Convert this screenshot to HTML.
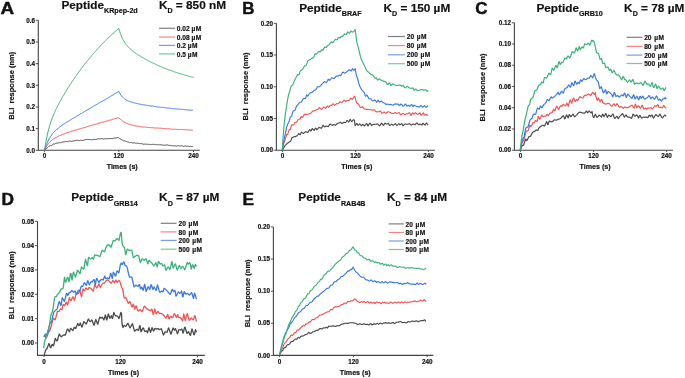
<!DOCTYPE html>
<html><head><meta charset="utf-8"><style>
html,body{margin:0;padding:0;background:#fff;}
body{width:685px;height:378px;overflow:hidden;}
svg{display:block;font-family:"Liberation Sans", sans-serif;fill:#111;}
svg{will-change:transform}
text{stroke:#111;stroke-width:0.18px;paint-order:stroke;}
.big{stroke-width:0.45px}
</style></head><body>
<svg width="685" height="378" viewBox="0 0 685 378">
<rect width="685" height="378" fill="#fff"/>
<g id="pA"><text class="big" transform="translate(0.50 14.30) scale(1.180 1)" font-size="16.00" font-weight="bold">A</text>
<text x="61.40" y="9.20" font-size="11.80" font-weight="bold">Peptide<tspan font-size="7.15" dy="4.10">KRpep-2d</tspan></text>
<text x="158.90" y="9.20" font-size="11.80" font-weight="bold">K<tspan font-size="7.15" dy="4.20">D</tspan><tspan dy="-4.20" font-size="11.80"> = 850 nM</tspan></text>
<path d="M38.30 20.30 V150.30 H199.80" fill="none" stroke="#444444" stroke-width="1.1"/>
<path d="M35.70 150.30 H38.30" stroke="#444444" stroke-width="0.9"/>
<text x="34.90" y="152.50" font-size="6.30" font-weight="bold" text-anchor="end" >0.0</text>
<path d="M35.70 128.63 H38.30" stroke="#444444" stroke-width="0.9"/>
<text x="34.90" y="130.83" font-size="6.30" font-weight="bold" text-anchor="end" >0.1</text>
<path d="M35.70 106.97 H38.30" stroke="#444444" stroke-width="0.9"/>
<text x="34.90" y="109.17" font-size="6.30" font-weight="bold" text-anchor="end" >0.2</text>
<path d="M35.70 85.30 H38.30" stroke="#444444" stroke-width="0.9"/>
<text x="34.90" y="87.50" font-size="6.30" font-weight="bold" text-anchor="end" >0.3</text>
<path d="M35.70 63.63 H38.30" stroke="#444444" stroke-width="0.9"/>
<text x="34.90" y="65.83" font-size="6.30" font-weight="bold" text-anchor="end" >0.4</text>
<path d="M35.70 41.97 H38.30" stroke="#444444" stroke-width="0.9"/>
<text x="34.90" y="44.17" font-size="6.30" font-weight="bold" text-anchor="end" >0.5</text>
<path d="M35.70 20.30 H38.30" stroke="#444444" stroke-width="0.9"/>
<text x="34.90" y="22.50" font-size="6.30" font-weight="bold" text-anchor="end" >0.6</text>
<path d="M44.40 150.30 V152.10" stroke="#444444" stroke-width="0.9"/>
<text x="44.40" y="158.40" font-size="6.30" font-weight="bold" text-anchor="middle" >0</text>
<path d="M118.80 150.30 V152.10" stroke="#444444" stroke-width="0.9"/>
<text x="118.80" y="158.40" font-size="6.30" font-weight="bold" text-anchor="middle" >120</text>
<path d="M193.50 150.30 V152.10" stroke="#444444" stroke-width="0.9"/>
<text x="193.50" y="158.40" font-size="6.30" font-weight="bold" text-anchor="middle" >240</text>
<text x="122.20" y="169.30" font-size="7.10" font-weight="bold" text-anchor="middle" >Times (s)</text>
<text transform="translate(14.30 85.80) rotate(-90)" font-size="7.50" font-weight="bold" text-anchor="middle">BLI&#160;&#160;response (nm)</text>
<path d="M159.00 28.30 H175.00" stroke="#4a4a4a" stroke-width="1.2" stroke-opacity="0.7"/>
<text x="176.80" y="30.90" font-size="6.60" font-weight="bold" text-anchor="start" word-spacing="0.00">0.02 <tspan letter-spacing="0.45">µM</tspan></text>
<path d="M159.00 37.10 H175.00" stroke="#ef5353" stroke-width="1.2" stroke-opacity="0.7"/>
<text x="176.80" y="39.70" font-size="6.60" font-weight="bold" text-anchor="start" word-spacing="0.00">0.08 <tspan letter-spacing="0.45">µM</tspan></text>
<path d="M159.00 45.40 H175.00" stroke="#3a78e0" stroke-width="1.2" stroke-opacity="0.7"/>
<text x="176.80" y="48.00" font-size="6.60" font-weight="bold" text-anchor="start" word-spacing="0.00">0.2 <tspan letter-spacing="0.45">µM</tspan></text>
<path d="M159.00 53.90 H175.00" stroke="#3cb078" stroke-width="1.2" stroke-opacity="0.7"/>
<text x="176.80" y="56.50" font-size="6.60" font-weight="bold" text-anchor="start" word-spacing="0.00">0.5 <tspan letter-spacing="0.45">µM</tspan></text>
<polyline points="44.5,150.4 45.0,149.9 45.5,149.4 46.0,148.9 46.5,148.4 47.0,148.0 47.5,147.6 48.0,147.2 48.5,146.7 49.0,146.3 49.5,145.9 50.0,145.7 50.5,145.6 51.0,145.5 51.5,145.4 52.0,145.0 52.5,144.7 53.0,144.3 53.5,144.1 54.0,144.1 54.5,144.1 55.0,143.8 55.5,143.5 56.0,143.3 56.5,143.2 57.0,143.2 57.5,143.1 58.0,143.1 58.5,142.8 59.0,142.6 59.5,142.6 60.0,142.7 60.5,142.7 61.0,142.5 61.5,142.3 62.0,142.1 62.5,142.0 63.0,141.9 63.5,141.9 64.0,141.8 64.5,141.8 65.0,141.6 65.5,141.4 66.0,141.5 66.5,141.5 67.0,141.6 67.5,141.6 68.0,141.5 68.5,141.3 69.0,141.1 69.5,141.0 70.0,141.1 70.5,141.2 71.0,141.3 71.5,141.3 72.0,141.2 72.5,141.1 73.0,141.0 73.5,140.9 74.0,140.8 74.5,140.8 75.0,140.7 75.5,140.6 76.0,140.5 76.5,140.3 77.0,140.2 77.5,140.3 78.0,140.5 78.5,140.6 79.0,140.7 79.5,140.6 80.0,140.4 80.5,140.2 81.0,140.2 81.5,140.4 82.0,140.5 82.5,140.4 83.0,140.2 83.5,140.1 84.0,140.0 84.5,139.9 85.0,139.9 85.5,139.8 86.0,139.6 86.5,139.5 87.0,139.4 87.5,139.4 88.0,139.5 88.5,139.5 89.0,139.6 89.5,139.6 90.0,139.6 90.5,139.6 91.0,139.7 91.5,139.7 92.0,139.8 92.5,139.7 93.0,139.6 93.5,139.4 94.0,139.3 94.5,139.3 95.0,139.4 95.5,139.5 96.0,139.6 96.5,139.4 97.0,139.2 97.5,138.9 98.0,138.7 98.5,138.8 99.0,138.8 99.5,138.9 100.0,138.9 100.5,138.8 101.0,138.7 101.5,138.7 102.0,138.6 102.5,138.7 103.0,138.9 103.5,139.1 104.0,138.9 104.5,138.8 105.0,138.7 105.5,138.7 106.0,138.7 106.5,138.7 107.0,138.7 107.5,138.7 108.0,138.7 108.5,138.7 109.0,138.7 109.5,138.6 110.0,138.6 110.5,138.5 111.0,138.6 111.5,138.6 112.0,138.7 112.5,138.6 113.0,138.4 113.5,138.2 114.0,138.0 114.5,138.0 115.0,138.0 115.5,138.0 116.0,138.1 116.5,138.0 117.0,137.8 117.5,137.6 118.0,137.6 118.5,137.7 118.8,137.8 119.3,138.3 119.8,138.7 120.3,138.9 120.8,139.2 121.3,139.4 121.8,139.8 122.3,140.1 122.8,140.5 123.3,140.8 123.8,140.8 124.3,140.8 124.8,140.9 125.3,141.1 125.8,141.3 126.3,141.5 126.8,141.6 127.3,141.8 127.8,141.9 128.3,142.0 128.8,142.3 129.3,142.6 129.8,142.7 130.3,142.6 130.8,142.4 131.3,142.4 131.8,142.7 132.3,143.0 132.8,143.0 133.3,142.9 133.8,142.8 134.3,142.8 134.8,142.9 135.3,143.1 135.8,143.3 136.3,143.2 136.8,143.2 137.3,143.2 137.8,143.3 138.3,143.4 138.8,143.4 139.3,143.5 139.8,143.6 140.3,143.6 140.8,143.6 141.3,143.6 141.8,143.6 142.3,143.8 142.8,144.0 143.3,144.2 143.8,144.3 144.3,144.2 144.8,144.2 145.3,144.1 145.8,144.1 146.3,144.2 146.8,144.3 147.3,144.3 147.8,144.3 148.3,144.3 148.8,144.3 149.3,144.4 149.8,144.4 150.3,144.5 150.8,144.5 151.3,144.5 151.8,144.5 152.3,144.4 152.8,144.3 153.3,144.4 153.8,144.4 154.3,144.5 154.8,144.5 155.3,144.5 155.8,144.4 156.3,144.6 156.8,144.8 157.3,144.9 157.8,144.7 158.3,144.6 158.8,144.6 159.3,144.8 159.8,144.9 160.3,144.9 160.8,144.8 161.3,144.7 161.8,144.8 162.3,145.0 162.8,145.1 163.3,145.2 163.8,145.2 164.3,145.2 164.8,145.2 165.3,145.1 165.8,145.1 166.3,145.1 166.8,145.0 167.3,144.9 167.8,145.0 168.3,145.2 168.8,145.3 169.3,145.5 169.8,145.5 170.3,145.4 170.8,145.3 171.3,145.5 171.8,145.7 172.3,145.8 172.8,145.8 173.3,145.8 173.8,145.8 174.3,145.8 174.8,145.8 175.3,145.9 175.8,146.0 176.3,146.0 176.8,146.0 177.3,145.9 177.8,145.8 178.3,145.7 178.8,145.8 179.3,145.9 179.8,146.0 180.3,146.0 180.8,145.9 181.3,145.8 181.8,145.8 182.3,145.9 182.8,146.1 183.3,146.3 183.8,146.4 184.3,146.2 184.8,146.0 185.3,145.8 185.8,145.9 186.3,146.1 186.8,146.3 187.3,146.2 187.8,146.2 188.3,146.2 188.8,146.4 189.3,146.6 189.8,146.5 190.3,146.4 190.8,146.4 191.3,146.5 191.8,146.6 192.3,146.6 192.8,146.4 192.9,146.3" fill="none" stroke="#4a4a4a" stroke-width="1.00" stroke-linejoin="round"/>
<polyline points="44.5,150.4 45.0,149.3 45.5,148.2 46.0,147.3 46.5,146.5 47.0,145.7 47.5,145.0 48.0,144.2 48.5,143.5 49.0,143.0 49.5,142.5 50.0,142.0 50.5,141.5 51.0,140.9 51.5,140.4 52.0,139.8 52.5,139.5 53.0,139.2 53.5,138.9 54.0,138.6 54.5,138.2 55.0,137.9 55.5,137.7 56.0,137.5 56.5,137.3 57.0,136.9 57.5,136.6 58.0,136.3 58.5,136.0 59.0,135.8 59.5,135.7 60.0,135.5 60.5,135.4 61.0,135.2 61.5,134.9 62.0,134.7 62.5,134.4 63.0,134.2 63.5,134.1 64.0,134.0 64.5,133.8 65.0,133.5 65.5,133.3 66.0,133.1 66.5,132.9 67.0,132.8 67.5,132.6 68.0,132.5 68.5,132.4 69.0,132.2 69.5,131.9 70.0,131.7 70.5,131.6 71.0,131.4 71.5,131.3 72.0,131.1 72.5,131.0 73.0,130.8 73.5,130.7 74.0,130.6 74.5,130.4 75.0,130.2 75.5,130.1 76.0,130.0 76.5,129.9 77.0,129.8 77.5,129.6 78.0,129.4 78.5,129.2 79.0,129.1 79.5,129.0 80.0,128.9 80.5,128.8 81.0,128.6 81.5,128.4 82.0,128.1 82.5,128.0 83.0,127.9 83.5,127.9 84.0,127.7 84.5,127.5 85.0,127.2 85.5,127.2 86.0,127.2 86.5,127.0 87.0,126.7 87.5,126.5 88.0,126.3 88.5,126.2 89.0,126.1 89.5,126.0 90.0,125.9 90.5,125.6 91.0,125.3 91.5,125.3 92.0,125.2 92.5,125.1 93.0,125.0 93.5,124.8 94.0,124.6 94.5,124.4 95.0,124.3 95.5,124.2 96.0,124.1 96.5,124.0 97.0,123.7 97.5,123.5 98.0,123.3 98.5,123.2 99.0,123.1 99.5,123.0 100.0,123.0 100.5,122.8 101.0,122.6 101.5,122.4 102.0,122.2 102.5,122.1 103.0,122.1 103.5,122.0 104.0,122.0 104.5,121.8 105.0,121.6 105.5,121.4 106.0,121.2 106.5,121.0 107.0,120.9 107.5,120.8 108.0,120.8 108.5,120.6 109.0,120.4 109.5,120.2 110.0,120.1 110.5,120.0 111.0,119.9 111.5,119.8 112.0,119.6 112.5,119.3 113.0,119.2 113.5,119.1 114.0,119.0 114.5,118.9 115.0,118.7 115.5,118.6 116.0,118.5 116.5,118.4 117.0,118.3 117.5,118.0 118.0,117.8 118.5,117.8 118.8,117.7 119.3,118.3 119.8,118.8 120.3,119.2 120.8,119.6 121.3,120.0 121.8,120.4 122.3,120.8 122.8,121.2 123.3,121.6 123.8,121.9 124.3,122.2 124.8,122.4 125.3,122.6 125.8,122.8 126.3,123.1 126.8,123.3 127.3,123.6 127.8,123.8 128.3,123.9 128.8,124.1 129.3,124.2 129.8,124.4 130.3,124.6 130.8,124.9 131.3,124.9 131.8,125.0 132.3,125.1 132.8,125.2 133.3,125.4 133.8,125.5 134.3,125.6 134.8,125.7 135.3,125.7 135.8,125.8 136.3,126.0 136.8,126.2 137.3,126.2 137.8,126.1 138.3,126.2 138.8,126.3 139.3,126.4 139.8,126.5 140.3,126.6 140.8,126.7 141.3,126.8 141.8,126.8 142.3,126.9 142.8,127.0 143.3,127.1 143.8,127.1 144.3,127.0 144.8,127.0 145.3,127.0 145.8,127.1 146.3,127.2 146.8,127.3 147.3,127.4 147.8,127.5 148.3,127.5 148.8,127.4 149.3,127.4 149.8,127.5 150.3,127.6 150.8,127.6 151.3,127.7 151.8,127.7 152.3,127.7 152.8,127.7 153.3,127.8 153.8,127.9 154.3,127.9 154.8,128.0 155.3,128.0 155.8,128.0 156.3,128.0 156.8,128.0 157.3,128.0 157.8,128.0 158.3,128.1 158.8,128.1 159.3,128.1 159.8,128.2 160.3,128.2 160.8,128.2 161.3,128.3 161.8,128.3 162.3,128.4 162.8,128.5 163.3,128.5 163.8,128.6 164.3,128.6 164.8,128.6 165.3,128.6 165.8,128.7 166.3,128.7 166.8,128.8 167.3,128.8 167.8,128.7 168.3,128.7 168.8,128.7 169.3,128.8 169.8,128.9 170.3,129.1 170.8,129.1 171.3,129.1 171.8,129.1 172.3,129.1 172.8,129.2 173.3,129.3 173.8,129.4 174.3,129.3 174.8,129.3 175.3,129.2 175.8,129.3 176.3,129.4 176.8,129.5 177.3,129.4 177.8,129.3 178.3,129.4 178.8,129.5 179.3,129.6 179.8,129.6 180.3,129.5 180.8,129.5 181.3,129.4 181.8,129.5 182.3,129.6 182.8,129.6 183.3,129.7 183.8,129.7 184.3,129.7 184.8,129.7 185.3,129.8 185.8,129.9 186.3,129.9 186.8,130.0 187.3,130.0 187.8,129.9 188.3,129.8 188.8,130.0 189.3,130.1 189.8,130.2 190.3,130.1 190.8,130.1 191.3,130.1 191.8,130.1 192.3,130.2 192.8,130.3 192.9,130.3" fill="none" stroke="#ef5353" stroke-width="1.00" stroke-linejoin="round"/>
<polyline points="44.5,150.4 45.0,148.8 45.5,147.2 46.0,145.7 46.5,144.4 47.0,143.3 47.5,142.2 48.0,141.1 48.5,140.0 49.0,139.0 49.5,138.1 50.0,137.3 50.5,136.6 51.0,135.9 51.5,135.1 52.0,134.4 52.5,133.7 53.0,133.1 53.5,132.6 54.0,132.0 54.5,131.5 55.0,131.0 55.5,130.5 56.0,130.0 56.5,129.5 57.0,129.2 57.5,128.9 58.0,128.5 58.5,128.0 59.0,127.6 59.5,127.2 60.0,126.8 60.5,126.5 61.0,126.1 61.5,125.7 62.0,125.3 62.5,124.9 63.0,124.6 63.5,124.3 64.0,124.0 64.5,123.7 65.0,123.3 65.5,122.9 66.0,122.6 66.5,122.2 67.0,121.9 67.5,121.7 68.0,121.4 68.5,121.2 69.0,120.8 69.5,120.4 70.0,120.1 70.5,119.8 71.0,119.5 71.5,119.2 72.0,118.9 72.5,118.6 73.0,118.3 73.5,118.0 74.0,117.7 74.5,117.5 75.0,117.3 75.5,117.0 76.0,116.7 76.5,116.3 77.0,116.0 77.5,115.7 78.0,115.5 78.5,115.2 79.0,114.8 79.5,114.5 80.0,114.1 80.5,113.8 81.0,113.7 81.5,113.5 82.0,113.1 82.5,112.7 83.0,112.4 83.5,112.2 84.0,111.9 84.5,111.5 85.0,111.2 85.5,110.9 86.0,110.7 86.5,110.4 87.0,110.2 87.5,109.9 88.0,109.5 88.5,109.2 89.0,108.9 89.5,108.6 90.0,108.4 90.5,108.1 91.0,107.8 91.5,107.5 92.0,107.1 92.5,106.8 93.0,106.5 93.5,106.2 94.0,106.0 94.5,105.7 95.0,105.4 95.5,105.1 96.0,104.8 96.5,104.5 97.0,104.2 97.5,104.0 98.0,103.6 98.5,103.3 99.0,103.0 99.5,102.7 100.0,102.4 100.5,102.2 101.0,101.9 101.5,101.6 102.0,101.4 102.5,101.1 103.0,100.8 103.5,100.5 104.0,100.2 104.5,100.0 105.0,99.7 105.5,99.4 106.0,99.1 106.5,98.8 107.0,98.5 107.5,98.2 108.0,97.9 108.5,97.6 109.0,97.3 109.5,97.0 110.0,96.7 110.5,96.4 111.0,96.1 111.5,95.7 112.0,95.5 112.5,95.2 113.0,95.0 113.5,94.7 114.0,94.3 114.5,94.0 115.0,93.6 115.5,93.4 116.0,93.1 116.5,92.8 117.0,92.5 117.5,92.2 118.0,91.9 118.5,91.6 118.8,91.4 119.3,92.4 119.8,93.3 120.3,94.2 120.8,94.9 121.3,95.6 121.8,96.2 122.3,96.8 122.8,97.3 123.3,97.7 123.8,98.2 124.3,98.6 124.8,99.0 125.3,99.3 125.8,99.7 126.3,100.0 126.8,100.3 127.3,100.5 127.8,100.8 128.3,101.0 128.8,101.2 129.3,101.4 129.8,101.6 130.3,101.7 130.8,101.9 131.3,102.0 131.8,102.2 132.3,102.4 132.8,102.6 133.3,102.7 133.8,102.8 134.3,102.9 134.8,102.9 135.3,103.1 135.8,103.3 136.3,103.4 136.8,103.4 137.3,103.5 137.8,103.7 138.3,103.8 138.8,104.0 139.3,104.0 139.8,104.1 140.3,104.2 140.8,104.3 141.3,104.5 141.8,104.6 142.3,104.6 142.8,104.7 143.3,104.8 143.8,104.9 144.3,105.0 144.8,105.1 145.3,105.1 145.8,105.1 146.3,105.2 146.8,105.3 147.3,105.4 147.8,105.6 148.3,105.6 148.8,105.7 149.3,105.7 149.8,105.8 150.3,105.9 150.8,106.0 151.3,106.0 151.8,106.0 152.3,106.0 152.8,106.1 153.3,106.2 153.8,106.4 154.3,106.5 154.8,106.5 155.3,106.5 155.8,106.6 156.3,106.7 156.8,106.8 157.3,107.0 157.8,107.0 158.3,107.1 158.8,107.1 159.3,107.1 159.8,107.1 160.3,107.2 160.8,107.3 161.3,107.4 161.8,107.4 162.3,107.4 162.8,107.4 163.3,107.4 163.8,107.5 164.3,107.6 164.8,107.8 165.3,107.9 165.8,107.9 166.3,107.9 166.8,108.0 167.3,108.0 167.8,108.1 168.3,108.1 168.8,108.2 169.3,108.2 169.8,108.2 170.3,108.2 170.8,108.3 171.3,108.4 171.8,108.5 172.3,108.6 172.8,108.6 173.3,108.6 173.8,108.6 174.3,108.7 174.8,108.7 175.3,108.8 175.8,108.9 176.3,108.9 176.8,108.9 177.3,109.0 177.8,109.1 178.3,109.1 178.8,109.2 179.3,109.2 179.8,109.2 180.3,109.2 180.8,109.2 181.3,109.3 181.8,109.4 182.3,109.4 182.8,109.5 183.3,109.5 183.8,109.5 184.3,109.6 184.8,109.6 185.3,109.7 185.8,109.8 186.3,109.9 186.8,109.9 187.3,109.9 187.8,109.9 188.3,110.0 188.8,110.0 189.3,110.0 189.8,110.1 190.3,110.1 190.8,110.2 191.3,110.2 191.8,110.2 192.3,110.2 192.8,110.3 192.9,110.3" fill="none" stroke="#3a78e0" stroke-width="1.00" stroke-linejoin="round"/>
<polyline points="44.5,150.4 45.0,147.1 45.5,144.1 46.0,141.3 46.5,138.7 47.0,136.3 47.5,134.0 48.0,131.9 48.5,129.9 49.0,128.1 49.5,126.3 50.0,124.6 50.5,123.0 51.0,121.6 51.5,120.1 52.0,118.8 52.5,117.5 53.0,116.2 53.5,115.0 54.0,113.8 54.5,112.7 55.0,111.6 55.5,110.5 56.0,109.4 56.5,108.4 57.0,107.3 57.5,106.3 58.0,105.3 58.5,104.3 59.0,103.3 59.5,102.4 60.0,101.5 60.5,100.6 61.0,99.7 61.5,98.7 62.0,97.8 62.5,96.9 63.0,96.1 63.5,95.3 64.0,94.5 64.5,93.6 65.0,92.8 65.5,91.9 66.0,91.2 66.5,90.4 67.0,89.6 67.5,88.7 68.0,87.8 68.5,87.1 69.0,86.4 69.5,85.6 70.0,84.9 70.5,84.1 71.0,83.3 71.5,82.5 72.0,81.7 72.5,81.0 73.0,80.2 73.5,79.5 74.0,78.7 74.5,78.0 75.0,77.2 75.5,76.5 76.0,75.9 76.5,75.2 77.0,74.4 77.5,73.7 78.0,73.0 78.5,72.3 79.0,71.7 79.5,71.0 80.0,70.3 80.5,69.6 81.0,69.0 81.5,68.3 82.0,67.7 82.5,67.1 83.0,66.4 83.5,65.7 84.0,65.0 84.5,64.3 85.0,63.7 85.5,63.1 86.0,62.5 86.5,61.8 87.0,61.2 87.5,60.6 88.0,60.0 88.5,59.5 89.0,58.8 89.5,58.2 90.0,57.6 90.5,57.0 91.0,56.4 91.5,55.8 92.0,55.3 92.5,54.7 93.0,54.1 93.5,53.4 94.0,52.9 94.5,52.3 95.0,51.8 95.5,51.3 96.0,50.7 96.5,50.1 97.0,49.5 97.5,48.9 98.0,48.4 98.5,47.9 99.0,47.4 99.5,46.8 100.0,46.3 100.5,45.8 101.0,45.2 101.5,44.7 102.0,44.2 102.5,43.7 103.0,43.2 103.5,42.6 104.0,42.1 104.5,41.6 105.0,41.1 105.5,40.6 106.0,40.1 106.5,39.6 107.0,39.1 107.5,38.7 108.0,38.2 108.5,37.8 109.0,37.3 109.5,36.7 110.0,36.2 110.5,35.7 111.0,35.2 111.5,34.8 112.0,34.4 112.5,34.0 113.0,33.5 113.5,33.0 114.0,32.6 114.5,32.1 115.0,31.7 115.5,31.2 116.0,30.8 116.5,30.3 117.0,29.9 117.5,29.4 118.0,29.0 118.5,28.6 118.8,28.4 119.3,30.2 119.8,31.8 120.3,33.3 120.8,34.6 121.3,36.0 121.8,37.2 122.3,38.4 122.8,39.4 123.3,40.3 123.8,41.1 124.3,41.9 124.8,42.7 125.3,43.5 125.8,44.2 126.3,44.8 126.8,45.4 127.3,46.0 127.8,46.6 128.3,47.2 128.8,47.7 129.3,48.1 129.8,48.6 130.3,49.0 130.8,49.4 131.3,49.9 131.8,50.3 132.3,50.7 132.8,51.1 133.3,51.5 133.8,51.8 134.3,52.2 134.8,52.6 135.3,53.0 135.8,53.3 136.3,53.7 136.8,54.1 137.3,54.5 137.8,54.8 138.3,55.1 138.8,55.3 139.3,55.6 139.8,55.9 140.3,56.2 140.8,56.5 141.3,56.8 141.8,57.1 142.3,57.4 142.8,57.7 143.3,57.9 143.8,58.2 144.3,58.5 144.8,58.8 145.3,59.1 145.8,59.4 146.3,59.6 146.8,59.9 147.3,60.2 147.8,60.4 148.3,60.7 148.8,60.9 149.3,61.2 149.8,61.4 150.3,61.7 150.8,62.0 151.3,62.3 151.8,62.6 152.3,62.8 152.8,63.0 153.3,63.2 153.8,63.5 154.3,63.7 154.8,64.0 155.3,64.2 155.8,64.4 156.3,64.6 156.8,64.8 157.3,65.1 157.8,65.3 158.3,65.5 158.8,65.7 159.3,65.9 159.8,66.1 160.3,66.4 160.8,66.6 161.3,66.8 161.8,67.1 162.3,67.3 162.8,67.5 163.3,67.7 163.8,67.9 164.3,68.1 164.8,68.4 165.3,68.6 165.8,68.7 166.3,68.9 166.8,69.0 167.3,69.2 167.8,69.4 168.3,69.7 168.8,69.9 169.3,70.0 169.8,70.2 170.3,70.3 170.8,70.5 171.3,70.7 171.8,70.9 172.3,71.0 172.8,71.2 173.3,71.3 173.8,71.5 174.3,71.8 174.8,72.0 175.3,72.2 175.8,72.3 176.3,72.4 176.8,72.5 177.3,72.7 177.8,73.0 178.3,73.2 178.8,73.3 179.3,73.5 179.8,73.6 180.3,73.7 180.8,73.9 181.3,74.1 181.8,74.3 182.3,74.4 182.8,74.6 183.3,74.7 183.8,74.8 184.3,75.0 184.8,75.1 185.3,75.3 185.8,75.4 186.3,75.5 186.8,75.6 187.3,75.7 187.8,75.8 188.3,76.0 188.8,76.1 189.3,76.3 189.8,76.4 190.3,76.6 190.8,76.7 191.3,76.9 191.8,77.0 192.3,77.1 192.8,77.2 193.3,77.3 193.7,77.4" fill="none" stroke="#3cb078" stroke-width="1.00" stroke-linejoin="round"/></g>
<g id="pB"><text class="big" transform="translate(242.30 14.00) scale(1.060 1)" font-size="16.00" font-weight="bold">B</text>
<text x="299.20" y="11.50" font-size="11.80" font-weight="bold">Peptide<tspan font-size="7.15" dy="4.10">BRAF</tspan></text>
<text x="383.50" y="11.50" font-size="11.80" font-weight="bold">K<tspan font-size="7.15" dy="4.20">D</tspan><tspan dy="-4.20" font-size="11.80"> = 150 µM</tspan></text>
<path d="M276.40 23.30 V150.20 H434.90" fill="none" stroke="#444444" stroke-width="1.1"/>
<path d="M273.80 150.20 H276.40" stroke="#444444" stroke-width="0.9"/>
<text x="273.00" y="152.40" font-size="6.30" font-weight="bold" text-anchor="end" >0.00</text>
<path d="M273.80 118.47 H276.40" stroke="#444444" stroke-width="0.9"/>
<text x="273.00" y="120.67" font-size="6.30" font-weight="bold" text-anchor="end" >0.05</text>
<path d="M273.80 86.75 H276.40" stroke="#444444" stroke-width="0.9"/>
<text x="273.00" y="88.95" font-size="6.30" font-weight="bold" text-anchor="end" >0.10</text>
<path d="M273.80 55.02 H276.40" stroke="#444444" stroke-width="0.9"/>
<text x="273.00" y="57.22" font-size="6.30" font-weight="bold" text-anchor="end" >0.15</text>
<path d="M273.80 23.30 H276.40" stroke="#444444" stroke-width="0.9"/>
<text x="273.00" y="25.50" font-size="6.30" font-weight="bold" text-anchor="end" >0.20</text>
<path d="M282.40 150.20 V152.00" stroke="#444444" stroke-width="0.9"/>
<text x="282.40" y="158.30" font-size="6.30" font-weight="bold" text-anchor="middle" >0</text>
<path d="M355.60 150.20 V152.00" stroke="#444444" stroke-width="0.9"/>
<text x="355.60" y="158.30" font-size="6.30" font-weight="bold" text-anchor="middle" >120</text>
<path d="M428.40 150.20 V152.00" stroke="#444444" stroke-width="0.9"/>
<text x="428.40" y="158.30" font-size="6.30" font-weight="bold" text-anchor="middle" >240</text>
<text x="356.80" y="169.30" font-size="7.10" font-weight="bold" text-anchor="middle" >Times (s)</text>
<text transform="translate(248.00 86.50) rotate(-90)" font-size="7.50" font-weight="bold" text-anchor="middle">BLI&#160;&#160;response (nm)</text>
<path d="M388.00 36.50 H405.00" stroke="#4a4a4a" stroke-width="1.2" stroke-opacity="0.7"/>
<text x="406.80" y="39.10" font-size="6.60" font-weight="bold" text-anchor="start" word-spacing="0.80">20 <tspan letter-spacing="0.45">µM</tspan></text>
<path d="M388.00 45.60 H405.00" stroke="#ef5353" stroke-width="1.2" stroke-opacity="0.7"/>
<text x="406.80" y="48.20" font-size="6.60" font-weight="bold" text-anchor="start" word-spacing="0.80">80 <tspan letter-spacing="0.45">µM</tspan></text>
<path d="M388.00 54.80 H405.00" stroke="#3a78e0" stroke-width="1.2" stroke-opacity="0.7"/>
<text x="406.80" y="57.40" font-size="6.60" font-weight="bold" text-anchor="start" word-spacing="0.80">200 <tspan letter-spacing="0.45">µM</tspan></text>
<path d="M388.00 63.70 H405.00" stroke="#3cb078" stroke-width="1.2" stroke-opacity="0.7"/>
<text x="406.80" y="66.30" font-size="6.60" font-weight="bold" text-anchor="start" word-spacing="0.80">500 <tspan letter-spacing="0.45">µM</tspan></text>
<polyline points="282.2,150.2 282.7,149.5 283.2,148.7 283.7,147.7 284.2,146.8 284.7,146.1 285.2,145.5 285.7,144.9 286.2,144.4 286.7,144.0 287.2,143.5 287.7,143.1 288.2,142.7 288.7,142.4 289.2,142.1 289.7,141.8 290.2,141.5 290.7,141.1 291.2,139.6 291.7,138.1 292.2,137.8 292.7,137.5 293.2,137.2 293.7,136.9 294.2,136.7 294.7,136.6 295.2,136.6 295.7,136.4 296.2,136.2 296.7,136.0 297.2,135.5 297.7,134.9 298.2,134.3 298.7,133.6 299.2,133.9 299.7,134.5 300.2,134.8 300.7,133.7 301.2,132.7 301.7,132.2 302.2,132.6 302.7,133.0 303.2,133.4 303.7,133.4 304.2,132.9 304.7,132.4 305.2,131.9 305.7,131.5 306.2,131.8 306.7,132.1 307.2,132.3 307.7,132.5 308.2,131.9 308.7,131.1 309.2,130.3 309.7,129.6 310.2,130.1 310.7,131.1 311.2,130.7 311.7,129.4 312.2,128.5 312.7,129.0 313.2,129.5 313.7,130.1 314.2,130.4 314.7,129.4 315.2,128.4 315.7,128.2 316.2,128.9 316.7,129.6 317.2,129.4 317.7,128.8 318.2,128.3 318.7,127.7 319.2,127.4 319.7,127.6 320.2,127.8 320.7,128.0 321.2,128.3 321.7,127.6 322.2,126.7 322.7,125.8 323.2,125.2 323.7,126.0 324.2,126.8 324.7,126.9 325.2,126.6 325.7,126.4 326.2,126.1 326.7,126.1 327.2,126.3 327.7,126.5 328.2,126.7 328.7,125.9 329.2,125.2 329.7,124.4 330.2,124.0 330.7,124.4 331.2,124.7 331.7,125.1 332.2,125.4 332.7,125.1 333.2,124.8 333.7,124.6 334.2,124.7 334.7,124.9 335.2,125.1 335.7,125.1 336.2,124.6 336.7,124.0 337.2,123.5 337.7,123.2 338.2,123.1 338.7,123.0 339.2,122.9 339.7,122.7 340.2,122.5 340.7,122.2 341.2,122.8 341.7,123.5 342.2,123.5 342.7,123.1 343.2,122.7 343.7,122.3 344.2,122.2 344.7,122.4 345.2,122.5 345.7,122.5 346.2,121.7 346.7,120.8 347.2,120.4 347.7,120.9 348.2,121.5 348.7,122.1 349.2,121.3 349.7,120.3 350.2,119.3 350.7,120.1 351.2,121.0 351.7,121.6 352.2,121.1 352.7,120.5 353.2,119.9 353.7,119.8 354.2,120.2 354.5,120.5 355.0,125.3 355.5,125.5 356.0,124.6 356.5,123.6 357.0,123.6 357.5,124.3 358.0,125.1 358.5,125.2 359.0,124.6 359.5,123.9 360.0,124.2 360.5,124.8 361.0,125.4 361.5,125.8 362.0,125.1 362.5,124.3 363.0,124.4 363.5,124.9 364.0,125.5 364.5,126.0 365.0,125.4 365.5,124.8 366.0,124.1 366.5,123.5 367.0,124.0 367.5,125.1 368.0,125.9 368.5,125.1 369.0,124.3 369.5,123.6 370.0,123.0 370.5,123.8 371.0,124.6 371.5,125.4 372.0,125.1 372.5,124.9 373.0,124.7 373.5,124.5 374.0,124.4 374.5,124.4 375.0,124.3 375.5,124.2 376.0,124.2 376.5,124.1 377.0,124.1 377.5,124.1 378.0,124.3 378.5,124.8 379.0,125.3 379.5,125.8 380.0,125.4 380.5,124.6 381.0,123.9 381.5,123.2 382.0,123.7 382.5,124.3 383.0,125.0 383.5,125.4 384.0,124.6 384.5,123.9 385.0,123.2 385.5,123.4 386.0,123.7 386.5,124.0 387.0,124.0 387.5,123.8 388.0,123.5 388.5,123.3 389.0,124.4 389.5,125.5 390.0,125.3 390.5,125.0 391.0,124.6 391.5,124.2 392.0,124.5 392.5,124.8 393.0,125.1 393.5,125.2 394.0,124.8 394.5,124.4 395.0,124.0 395.5,123.7 396.0,124.3 396.5,125.0 397.0,125.7 397.5,125.2 398.0,124.5 398.5,123.7 399.0,123.9 399.5,124.4 400.0,124.9 400.5,124.5 401.0,124.1 401.5,123.6 402.0,123.7 402.5,124.8 403.0,125.8 403.5,125.3 404.0,124.8 404.5,124.3 405.0,124.0 405.5,124.0 406.0,124.1 406.5,124.2 407.0,124.3 407.5,124.2 408.0,124.1 408.5,124.0 409.0,123.8 409.5,123.8 410.0,124.1 410.5,124.4 411.0,124.7 411.5,125.1 412.0,124.8 412.5,124.4 413.0,124.0 413.5,124.1 414.0,124.3 414.5,124.6 415.0,124.8 415.5,124.3 416.0,123.7 416.5,123.1 417.0,123.0 417.5,123.5 418.0,124.1 418.5,124.6 419.0,124.7 419.5,124.3 420.0,124.0 420.5,124.2 421.0,124.5 421.5,124.9 422.0,125.0 422.5,124.1 423.0,123.2 423.5,123.7 424.0,124.2 424.5,124.6 425.0,125.1 425.5,124.3 426.0,123.5 426.5,123.0 427.0,123.8 427.5,124.7 428.0,124.5 428.1,124.4" fill="none" stroke="#4a4a4a" stroke-width="1.15" stroke-linejoin="round"/>
<polyline points="282.2,150.2 282.7,148.0 283.2,145.6 283.7,143.7 284.2,142.2 284.7,141.1 285.2,139.4 285.7,137.6 286.2,136.0 286.7,134.4 287.2,134.4 287.7,134.4 288.2,132.7 288.7,130.9 289.2,129.6 289.7,129.7 290.2,129.6 290.7,127.8 291.2,126.0 291.7,124.8 292.2,124.9 292.7,125.0 293.2,125.1 293.7,124.8 294.2,124.0 294.7,123.0 295.2,122.5 295.7,122.3 296.2,122.2 296.7,122.1 297.2,121.1 297.7,120.0 298.2,119.6 298.7,119.4 299.2,119.3 299.7,119.2 300.2,118.8 300.7,117.6 301.2,116.5 301.7,116.9 302.2,117.4 302.7,117.4 303.2,116.3 303.7,115.3 304.2,114.2 304.7,114.3 305.2,114.3 305.7,114.4 306.2,114.5 306.7,114.4 307.2,114.3 307.7,114.2 308.2,114.1 308.7,114.0 309.2,113.8 309.7,113.7 310.2,113.5 310.7,113.4 311.2,112.9 311.7,112.3 312.2,111.7 312.7,111.1 313.2,110.9 313.7,110.9 314.2,110.9 314.7,110.7 315.2,110.4 315.7,110.2 316.2,109.9 316.7,109.7 317.2,109.5 317.7,109.3 318.2,108.9 318.7,108.3 319.2,107.7 319.7,107.9 320.2,108.3 320.7,108.8 321.2,109.2 321.7,109.3 322.2,108.7 322.7,108.1 323.2,107.6 323.7,107.0 324.2,107.1 324.7,107.5 325.2,107.8 325.7,108.2 326.2,107.8 326.7,107.1 327.2,106.4 327.7,106.0 328.2,106.6 328.7,107.3 329.2,106.8 329.7,106.0 330.2,105.2 330.7,105.2 331.2,105.3 331.7,105.3 332.2,104.7 332.7,104.2 333.2,103.8 333.7,104.3 334.2,104.8 334.7,105.3 335.2,104.9 335.7,104.4 336.2,103.9 336.7,103.6 337.2,103.7 337.7,103.9 338.2,103.5 338.7,103.1 339.2,102.6 339.7,102.1 340.2,101.9 340.7,102.1 341.2,102.2 341.7,102.4 342.2,102.2 342.7,101.7 343.2,101.1 343.7,100.6 344.2,100.2 344.7,100.7 345.2,101.1 345.7,101.3 346.2,101.1 346.7,100.9 347.2,100.7 347.7,100.6 348.2,100.5 348.7,100.4 349.2,100.3 349.7,99.6 350.2,98.8 350.7,98.0 351.2,98.2 351.7,98.8 352.2,99.4 352.7,99.1 353.2,98.3 353.7,97.4 354.2,96.6 354.7,96.3 355.0,96.7 355.5,99.0 356.0,101.1 356.5,102.6 357.0,103.2 357.5,103.6 358.0,103.9 358.5,104.1 359.0,105.0 359.5,106.0 360.0,106.9 360.5,107.4 361.0,107.2 361.5,107.1 362.0,106.9 362.5,106.7 363.0,107.3 363.5,107.9 364.0,108.5 364.5,109.0 365.0,109.2 365.5,109.2 366.0,109.3 366.5,109.3 367.0,109.3 367.5,109.4 368.0,109.4 368.5,109.5 369.0,109.5 369.5,109.6 370.0,109.7 370.5,109.7 371.0,109.8 371.5,109.9 372.0,110.0 372.5,110.2 373.0,110.0 373.5,109.9 374.0,109.7 374.5,110.2 375.0,110.7 375.5,111.2 376.0,111.6 376.5,111.8 377.0,111.9 377.5,111.9 378.0,111.9 378.5,111.8 379.0,111.7 379.5,111.4 380.0,111.0 380.5,111.2 381.0,111.9 381.5,112.6 382.0,113.3 382.5,113.1 383.0,112.8 383.5,112.4 384.0,112.0 384.5,112.1 385.0,112.6 385.5,113.1 386.0,113.2 386.5,112.8 387.0,112.4 387.5,112.0 388.0,111.7 388.5,111.9 389.0,112.0 389.5,112.2 390.0,112.4 390.5,112.6 391.0,112.9 391.5,113.3 392.0,113.5 392.5,113.5 393.0,113.5 393.5,113.4 394.0,113.2 394.5,112.9 395.0,112.7 395.5,112.5 396.0,112.9 396.5,113.2 397.0,113.5 397.5,113.3 398.0,113.0 398.5,112.7 399.0,112.5 399.5,113.1 400.0,113.9 400.5,114.8 401.0,114.9 401.5,114.5 402.0,114.0 402.5,113.6 403.0,113.3 403.5,113.7 404.0,114.1 404.5,114.5 405.0,114.7 405.5,114.3 406.0,113.8 406.5,113.7 407.0,113.7 407.5,113.6 408.0,113.4 408.5,113.2 409.0,112.9 409.5,112.7 410.0,113.5 410.5,114.5 411.0,115.5 411.5,114.8 412.0,113.8 412.5,112.8 413.0,113.2 413.5,114.1 414.0,114.1 414.5,113.7 415.0,113.2 415.5,112.7 416.0,113.1 416.5,113.5 417.0,114.0 417.5,114.4 418.0,114.3 418.5,113.9 419.0,113.5 419.5,113.1 420.0,112.9 420.5,114.0 421.0,115.1 421.5,115.2 422.0,114.5 422.5,113.8 423.0,113.2 423.5,112.9 424.0,113.9 424.5,115.0 425.0,115.1 425.5,114.8 426.0,114.5 426.5,114.6 427.0,114.9 427.5,115.2 428.0,114.9 428.1,114.8" fill="none" stroke="#ef5353" stroke-width="1.15" stroke-linejoin="round"/>
<polyline points="282.2,150.2 282.7,147.1 283.2,144.1 283.7,141.4 284.2,138.9 284.7,136.6 285.2,134.4 285.7,131.8 286.2,129.3 286.7,126.9 287.2,125.5 287.7,124.3 288.2,123.2 288.7,122.3 289.2,120.9 289.7,119.1 290.2,117.4 290.7,116.9 291.2,116.5 291.7,116.1 292.2,114.2 292.7,112.4 293.2,111.0 293.7,110.8 294.2,110.7 294.7,110.5 295.2,109.9 295.7,108.4 296.2,106.8 296.7,105.9 297.2,105.4 297.7,104.8 298.2,104.2 298.7,103.6 299.2,102.7 299.7,102.2 300.2,102.2 300.7,102.2 301.2,102.2 301.7,101.5 302.2,100.6 302.7,99.7 303.2,98.8 303.7,98.5 304.2,98.5 304.7,98.5 305.2,98.6 305.7,97.9 306.2,96.3 306.7,94.8 307.2,95.4 307.7,96.1 308.2,95.5 308.7,94.7 309.2,94.0 309.7,93.2 310.2,92.9 310.7,92.7 311.2,92.6 311.7,92.4 312.2,92.2 312.7,91.8 313.2,91.3 313.7,90.8 314.2,90.4 314.7,90.2 315.2,90.0 315.7,89.6 316.2,88.9 316.7,88.1 317.2,87.3 317.7,86.7 318.2,86.6 318.7,86.7 319.2,86.7 319.7,86.6 320.2,86.1 320.7,85.6 321.2,85.0 321.7,84.5 322.2,83.9 322.7,83.4 323.2,82.8 323.7,82.3 324.2,81.8 324.7,81.5 325.2,81.9 325.7,82.2 326.2,82.6 326.7,82.2 327.2,81.2 327.7,80.3 328.2,79.3 328.7,79.4 329.2,80.1 329.7,80.3 330.2,79.7 330.7,79.1 331.2,78.5 331.7,77.8 332.2,77.8 332.7,78.0 333.2,78.2 333.7,78.4 334.2,78.5 334.7,77.9 335.2,77.3 335.7,76.7 336.2,76.1 336.7,76.1 337.2,76.1 337.7,76.1 338.2,76.0 338.7,75.6 339.2,75.1 339.7,75.3 340.2,75.6 340.7,75.6 341.2,74.7 341.7,73.8 342.2,72.9 342.7,72.0 343.2,72.2 343.7,72.5 344.2,72.9 344.7,73.2 345.2,72.9 345.7,72.5 346.2,72.1 346.7,71.7 347.2,71.4 347.7,71.1 348.2,70.6 348.7,70.1 349.2,69.7 349.7,69.8 350.2,70.3 350.7,70.7 351.2,70.9 351.7,70.0 352.2,69.0 352.7,68.6 353.2,69.7 353.7,70.5 354.2,69.9 354.7,69.3 355.2,68.6 355.7,71.6 356.2,74.5 356.7,76.3 357.2,77.5 357.7,79.0 358.2,81.0 358.7,82.8 359.2,84.6 359.7,86.0 360.2,87.0 360.7,88.0 361.2,88.9 361.7,89.7 362.2,90.3 362.7,90.8 363.2,91.3 363.7,91.7 364.2,92.6 364.7,93.9 365.2,95.2 365.7,96.3 366.2,95.7 366.7,95.1 367.2,95.4 367.7,96.4 368.2,97.3 368.7,98.3 369.2,98.9 369.7,98.8 370.2,98.7 370.7,98.7 371.2,99.2 371.7,100.0 372.2,100.7 372.7,101.0 373.2,100.8 373.7,100.5 374.2,100.2 374.7,99.9 375.2,100.2 375.7,100.9 376.2,101.5 376.7,102.2 377.2,101.7 377.7,100.8 378.2,100.1 378.7,101.1 379.2,102.0 379.7,102.1 380.2,101.7 380.7,101.3 381.2,101.0 381.7,101.4 382.2,101.9 382.7,102.3 383.2,102.5 383.7,102.8 384.2,103.0 384.7,103.2 385.2,103.7 385.7,104.3 386.2,104.6 386.7,104.3 387.2,104.0 387.7,104.0 388.2,104.4 388.7,104.7 389.2,104.7 389.7,104.6 390.2,104.5 390.7,104.3 391.2,104.5 391.7,104.8 392.2,105.0 392.7,105.3 393.2,105.2 393.7,104.8 394.2,104.4 394.7,104.1 395.2,103.9 395.7,104.0 396.2,104.1 396.7,104.1 397.2,104.1 397.7,104.1 398.2,104.1 398.7,104.6 399.2,105.5 399.7,105.6 400.2,104.8 400.7,104.1 401.2,104.0 401.7,104.6 402.2,105.2 402.7,105.8 403.2,106.3 403.7,105.9 404.2,105.3 404.7,104.7 405.2,104.2 405.7,104.1 406.2,105.2 406.7,106.1 407.2,105.8 407.7,105.6 408.2,105.3 408.7,105.4 409.2,105.9 409.7,106.5 410.2,106.0 410.7,105.4 411.2,104.8 411.7,104.5 412.2,105.4 412.7,106.3 413.2,106.3 413.7,105.7 414.2,105.1 414.7,105.4 415.2,105.7 415.7,106.0 416.2,106.2 416.7,106.4 417.2,106.5 417.7,106.7 418.2,106.8 418.7,106.9 419.2,107.1 419.7,106.7 420.2,106.2 420.7,105.6 421.2,105.5 421.7,106.2 422.2,106.9 422.7,107.2 423.2,106.8 423.7,106.4 424.2,106.0 424.7,105.6 425.2,106.3 425.7,107.0 426.2,107.4 426.7,106.9 427.2,106.5 427.7,106.0 428.1,105.7" fill="none" stroke="#3a78e0" stroke-width="1.15" stroke-linejoin="round"/>
<polyline points="282.2,150.2 282.7,142.7 283.2,135.8 283.7,129.6 284.2,124.1 284.7,119.4 285.2,115.4 285.7,111.9 286.2,108.7 286.7,105.3 287.2,102.0 287.7,99.1 288.2,96.3 288.7,94.5 289.2,93.0 289.7,91.6 290.2,89.5 290.7,87.5 291.2,86.1 291.7,85.6 292.2,85.2 292.7,84.9 293.2,84.0 293.7,82.6 294.2,81.1 294.7,80.1 295.2,79.2 295.7,78.2 296.2,77.3 296.7,76.3 297.2,75.4 297.7,74.6 298.2,74.6 298.7,74.6 299.2,74.7 299.7,72.8 300.2,70.9 300.7,70.5 301.2,70.2 301.7,69.9 302.2,69.7 302.7,69.2 303.2,68.3 303.7,67.4 304.2,66.6 304.7,65.8 305.2,65.7 305.7,65.6 306.2,65.3 306.7,63.9 307.2,62.6 307.7,61.3 308.2,60.6 308.7,60.3 309.2,60.0 309.7,59.7 310.2,59.4 310.7,59.1 311.2,58.8 311.7,58.4 312.2,58.1 312.7,57.9 313.2,57.7 313.7,57.3 314.2,55.9 314.7,54.6 315.2,53.9 315.7,54.0 316.2,54.2 316.7,53.8 317.2,53.2 317.7,52.6 318.2,52.0 318.7,51.5 319.2,51.6 319.7,51.7 320.2,51.9 320.7,51.4 321.2,50.4 321.7,49.8 322.2,50.2 322.7,50.4 323.2,49.6 323.7,48.7 324.2,47.9 324.7,47.1 325.2,47.0 325.7,47.4 326.2,47.6 326.7,46.9 327.2,46.2 327.7,45.5 328.2,45.2 328.7,44.9 329.2,44.7 329.7,43.9 330.2,43.2 330.7,42.6 331.2,41.9 331.7,41.9 332.2,42.2 332.7,42.6 333.2,42.5 333.7,41.6 334.2,40.8 334.7,40.0 335.2,39.3 335.7,39.5 336.2,39.7 336.7,39.8 337.2,39.7 337.7,38.7 338.2,37.7 338.7,37.5 339.2,37.7 339.7,37.9 340.2,37.9 340.7,37.2 341.2,36.4 341.7,36.3 342.2,36.6 342.7,36.4 343.2,35.7 343.7,35.0 344.2,34.4 344.7,33.8 345.2,34.1 345.7,34.3 346.2,34.6 346.7,33.7 347.2,32.5 347.7,31.9 348.2,32.3 348.7,32.8 349.2,33.3 349.7,32.9 350.2,32.2 350.7,31.6 351.2,31.1 351.7,31.4 352.2,31.7 352.7,32.0 353.2,32.2 353.7,31.5 354.2,30.9 354.7,30.0 355.2,29.5 355.7,33.7 356.2,37.7 356.7,41.4 357.2,43.8 357.7,45.4 358.2,47.0 358.7,49.3 359.2,51.5 359.7,53.5 360.2,55.5 360.7,57.3 361.2,59.1 361.7,60.2 362.2,61.3 362.7,62.2 363.2,63.2 363.7,64.2 364.2,65.0 364.7,66.1 365.2,67.3 365.7,68.4 366.2,69.5 366.7,70.6 367.2,71.1 367.7,71.6 368.2,71.9 368.7,72.3 369.2,72.8 369.7,73.3 370.2,73.9 370.7,74.4 371.2,74.6 371.7,74.7 372.2,74.8 372.7,74.8 373.2,75.5 373.7,76.3 374.2,77.2 374.7,78.0 375.2,78.3 375.7,78.0 376.2,77.6 376.7,78.5 377.2,79.8 377.7,80.1 378.2,79.6 378.7,79.2 379.2,78.9 379.7,79.2 380.2,79.5 380.7,79.9 381.2,80.2 381.7,80.4 382.2,80.7 382.7,80.9 383.2,81.1 383.7,81.3 384.2,81.4 384.7,81.6 385.2,81.7 385.7,81.9 386.2,82.1 386.7,83.3 387.2,84.5 387.7,84.5 388.2,84.0 388.7,83.5 389.2,83.0 389.7,82.9 390.2,84.1 390.7,85.3 391.2,85.5 391.7,85.0 392.2,84.4 392.7,83.9 393.2,84.0 393.7,84.2 394.2,84.5 394.7,84.7 395.2,85.0 395.7,85.2 396.2,85.5 396.7,85.6 397.2,85.4 397.7,85.3 398.2,85.2 398.7,85.2 399.2,85.1 399.7,85.1 400.2,85.1 400.7,85.3 401.2,85.9 401.7,86.4 402.2,86.1 402.7,85.6 403.2,85.4 403.7,86.1 404.2,86.9 404.7,87.6 405.2,87.9 405.7,87.5 406.2,87.1 406.7,86.6 407.2,86.2 407.7,86.6 408.2,87.0 408.7,87.5 409.2,87.8 409.7,88.1 410.2,88.3 410.7,88.2 411.2,88.2 411.7,88.2 412.2,88.1 412.7,87.9 413.2,88.3 413.7,89.5 414.2,90.4 414.7,89.9 415.2,89.4 415.7,89.0 416.2,89.4 416.7,89.8 417.2,90.2 417.7,90.6 418.2,90.5 418.7,90.4 419.2,90.2 419.7,90.0 420.2,89.9 420.7,89.8 421.2,89.7 421.7,89.6 422.2,89.5 422.7,89.5 423.2,90.0 423.7,90.4 424.2,90.3 424.7,90.0 425.2,89.8 425.7,89.7 426.2,90.3 426.7,90.9 427.2,91.5 427.7,91.0 428.1,90.4" fill="none" stroke="#3cb078" stroke-width="1.15" stroke-linejoin="round"/></g>
<g id="pC"><text class="big" transform="translate(475.30 14.00) scale(1.060 1)" font-size="16.00" font-weight="bold">C</text>
<text x="536.40" y="11.50" font-size="11.80" font-weight="bold">Peptide<tspan font-size="7.15" dy="4.10">GRB10</tspan></text>
<text x="624.10" y="11.50" font-size="11.80" font-weight="bold">K<tspan font-size="7.15" dy="4.20">D</tspan><tspan dy="-4.20" font-size="11.80"> = 78 µM</tspan></text>
<path d="M514.40 22.80 V150.20 H673.00" fill="none" stroke="#444444" stroke-width="1.1"/>
<path d="M511.80 150.20 H514.40" stroke="#444444" stroke-width="0.9"/>
<text x="511.00" y="152.40" font-size="6.30" font-weight="bold" text-anchor="end" >0.00</text>
<path d="M511.80 128.97 H514.40" stroke="#444444" stroke-width="0.9"/>
<text x="511.00" y="131.17" font-size="6.30" font-weight="bold" text-anchor="end" >0.02</text>
<path d="M511.80 107.73 H514.40" stroke="#444444" stroke-width="0.9"/>
<text x="511.00" y="109.93" font-size="6.30" font-weight="bold" text-anchor="end" >0.04</text>
<path d="M511.80 86.50 H514.40" stroke="#444444" stroke-width="0.9"/>
<text x="511.00" y="88.70" font-size="6.30" font-weight="bold" text-anchor="end" >0.06</text>
<path d="M511.80 65.27 H514.40" stroke="#444444" stroke-width="0.9"/>
<text x="511.00" y="67.47" font-size="6.30" font-weight="bold" text-anchor="end" >0.08</text>
<path d="M511.80 44.03 H514.40" stroke="#444444" stroke-width="0.9"/>
<text x="511.00" y="46.23" font-size="6.30" font-weight="bold" text-anchor="end" >0.10</text>
<path d="M511.80 22.80 H514.40" stroke="#444444" stroke-width="0.9"/>
<text x="511.00" y="25.00" font-size="6.30" font-weight="bold" text-anchor="end" >0.12</text>
<path d="M520.40 150.20 V152.00" stroke="#444444" stroke-width="0.9"/>
<text x="520.40" y="158.30" font-size="6.30" font-weight="bold" text-anchor="middle" >0</text>
<path d="M593.60 150.20 V152.00" stroke="#444444" stroke-width="0.9"/>
<text x="593.60" y="158.30" font-size="6.30" font-weight="bold" text-anchor="middle" >120</text>
<path d="M666.60 150.20 V152.00" stroke="#444444" stroke-width="0.9"/>
<text x="666.60" y="158.30" font-size="6.30" font-weight="bold" text-anchor="middle" >240</text>
<text x="595.10" y="169.30" font-size="7.10" font-weight="bold" text-anchor="middle" >Times (s)</text>
<text transform="translate(485.10 87.50) rotate(-90)" font-size="7.50" font-weight="bold" text-anchor="middle">BLI&#160;&#160;response (nm)</text>
<path d="M626.50 37.30 H642.40" stroke="#4a4a4a" stroke-width="1.2" stroke-opacity="0.7"/>
<text x="644.20" y="39.90" font-size="6.60" font-weight="bold" text-anchor="start" word-spacing="0.80">20 <tspan letter-spacing="0.45">µM</tspan></text>
<path d="M626.50 46.40 H642.40" stroke="#ef5353" stroke-width="1.2" stroke-opacity="0.7"/>
<text x="644.20" y="49.00" font-size="6.60" font-weight="bold" text-anchor="start" word-spacing="0.80">80 <tspan letter-spacing="0.45">µM</tspan></text>
<path d="M626.50 55.10 H642.40" stroke="#3a78e0" stroke-width="1.2" stroke-opacity="0.7"/>
<text x="644.20" y="57.70" font-size="6.60" font-weight="bold" text-anchor="start" word-spacing="0.80">200 <tspan letter-spacing="0.45">µM</tspan></text>
<path d="M626.50 63.50 H642.40" stroke="#3cb078" stroke-width="1.2" stroke-opacity="0.7"/>
<text x="644.20" y="66.10" font-size="6.60" font-weight="bold" text-anchor="start" word-spacing="0.80">500 <tspan letter-spacing="0.45">µM</tspan></text>
<polyline points="520.2,150.2 520.7,149.3 521.2,148.2 521.7,146.9 522.2,145.6 522.7,145.3 523.2,145.3 523.7,145.0 524.2,143.3 524.7,141.7 525.2,140.0 525.7,139.1 526.2,139.9 526.7,140.6 527.2,140.0 527.7,139.0 528.2,138.1 528.7,137.1 529.2,136.4 529.7,136.3 530.2,136.3 530.7,136.1 531.2,135.1 531.7,134.1 532.2,133.2 532.7,132.3 533.2,131.8 533.7,131.7 534.2,131.7 534.7,131.3 535.2,130.8 535.7,130.3 536.2,129.9 536.7,130.1 537.2,130.3 537.7,130.5 538.2,129.4 538.7,128.4 539.2,127.7 539.7,127.3 540.2,126.9 540.7,126.5 541.2,126.1 541.7,125.7 542.2,125.3 542.7,125.3 543.2,125.6 543.7,125.8 544.2,126.1 544.7,125.7 545.2,124.6 545.7,123.6 546.2,122.6 546.7,121.5 547.2,122.9 547.7,124.6 548.2,124.3 548.7,122.7 549.2,121.1 549.7,121.2 550.2,121.3 550.7,121.5 551.2,121.7 551.7,121.8 552.2,121.6 552.7,121.4 553.2,121.0 553.7,120.4 554.2,119.9 554.7,119.9 555.2,120.0 555.7,120.1 556.2,120.2 556.7,120.0 557.2,119.8 557.7,119.6 558.2,119.4 558.7,119.2 559.2,119.0 559.7,118.8 560.2,118.6 560.7,118.3 561.2,118.0 561.7,117.4 562.2,116.7 562.7,116.2 563.2,115.7 563.7,116.3 564.2,117.7 564.7,119.0 565.2,118.3 565.7,117.0 566.2,115.7 566.7,114.9 567.2,116.0 567.7,117.2 568.2,117.9 568.7,116.1 569.2,114.5 569.7,115.2 570.2,115.9 570.7,116.6 571.2,116.4 571.7,115.7 572.2,115.0 572.7,114.3 573.2,114.2 573.7,115.3 574.2,116.4 574.7,116.9 575.2,116.4 575.7,115.9 576.2,115.4 576.7,114.9 577.2,114.3 577.7,113.7 578.2,113.2 578.7,112.8 579.2,112.4 579.7,112.2 580.2,112.2 580.7,112.3 581.2,112.5 581.7,112.6 582.2,112.8 582.7,113.0 583.2,113.1 583.7,113.1 584.2,113.1 584.7,113.1 585.2,112.5 585.7,111.8 586.2,111.0 586.7,111.5 587.2,112.1 587.7,112.8 588.2,112.2 588.7,111.5 589.2,111.0 589.7,111.6 590.2,112.1 590.7,112.6 591.2,112.8 591.7,112.0 592.0,111.5 592.5,114.7 593.0,116.3 593.5,117.5 594.0,117.5 594.5,116.2 595.0,114.8 595.5,114.5 596.0,115.4 596.5,116.4 597.0,117.4 597.5,117.1 598.0,116.6 598.5,116.0 599.0,115.4 599.5,115.1 600.0,115.6 600.5,116.1 601.0,116.5 601.5,117.0 602.0,115.6 602.5,114.2 603.0,114.4 603.5,116.0 604.0,116.5 604.5,115.5 605.0,114.7 605.5,113.8 606.0,113.6 606.5,115.2 607.0,116.9 607.5,117.3 608.0,116.3 608.5,115.3 609.0,115.1 609.5,115.5 610.0,116.0 610.5,116.4 611.0,116.6 611.5,115.9 612.0,115.2 612.5,114.6 613.0,113.9 613.5,115.4 614.0,116.8 614.5,118.2 615.0,118.3 615.5,117.8 616.0,117.2 616.5,116.6 617.0,116.3 617.5,117.3 618.0,118.2 618.5,118.6 619.0,117.5 619.5,116.5 620.0,116.1 620.5,115.7 621.0,115.2 621.5,114.6 622.0,114.0 622.5,113.6 623.0,114.5 623.5,115.4 624.0,116.4 624.5,117.1 625.0,116.2 625.5,115.4 626.0,114.9 626.5,115.6 627.0,116.3 627.5,117.0 628.0,117.2 628.5,117.2 629.0,117.2 629.5,117.1 630.0,117.3 630.5,117.7 631.0,118.1 631.5,118.4 632.0,117.3 632.5,115.7 633.0,114.1 633.5,114.4 634.0,115.1 634.5,115.8 635.0,116.4 635.5,115.9 636.0,115.3 636.5,114.8 637.0,115.0 637.5,116.0 638.0,117.0 638.5,118.0 639.0,117.1 639.5,115.8 640.0,115.4 640.5,116.3 641.0,117.1 641.5,118.0 642.0,118.0 642.5,117.6 643.0,117.2 643.5,117.0 644.0,117.2 644.5,117.4 645.0,117.2 645.5,117.0 646.0,117.1 646.5,117.3 647.0,117.4 647.5,117.6 648.0,117.5 648.5,116.5 649.0,115.4 649.5,115.2 650.0,116.0 650.5,116.6 651.0,116.0 651.5,115.4 652.0,115.0 652.5,116.1 653.0,117.2 653.5,118.1 654.0,117.3 654.5,116.5 655.0,115.7 655.5,114.9 656.0,114.6 656.5,115.1 657.0,115.6 657.5,116.2 658.0,116.7 658.5,116.2 659.0,115.5 659.5,114.7 660.0,114.2 660.5,115.1 661.0,116.0 661.5,116.9 662.0,117.8 662.5,118.0 663.0,117.3 663.5,116.5 664.0,115.8 664.5,115.0 665.0,115.1 665.5,115.7 666.0,116.3 666.1,116.4" fill="none" stroke="#4a4a4a" stroke-width="1.20" stroke-linejoin="round"/>
<polyline points="520.2,150.2 520.7,148.2 521.2,146.0 521.7,143.9 522.2,142.6 522.7,141.6 523.2,140.9 523.7,140.1 524.2,138.7 524.7,136.6 525.2,134.5 525.7,132.6 526.2,131.3 526.7,131.0 527.2,130.8 527.7,130.6 528.2,130.5 528.7,129.1 529.2,127.1 529.7,125.3 530.2,125.9 530.7,126.5 531.2,126.0 531.7,125.1 532.2,124.2 532.7,123.2 533.2,122.4 533.7,122.6 534.2,122.8 534.7,121.8 535.2,120.7 535.7,120.6 536.2,121.0 536.7,121.4 537.2,121.4 537.7,118.9 538.2,116.4 538.7,117.0 539.2,118.1 539.7,119.2 540.2,118.5 540.7,117.3 541.2,116.2 541.7,115.0 542.2,115.5 542.7,116.2 543.2,116.8 543.7,116.7 544.2,116.2 544.7,116.0 545.2,116.1 545.7,116.2 546.2,115.6 546.7,115.0 547.2,114.5 547.7,114.9 548.2,115.7 548.7,115.5 549.2,114.5 549.7,113.5 550.2,113.1 550.7,113.0 551.2,112.9 551.7,112.8 552.2,112.6 552.7,111.3 553.2,110.0 553.7,109.2 554.2,110.0 554.7,110.7 555.2,110.3 555.7,108.6 556.2,107.0 556.7,106.3 557.2,107.1 557.7,107.9 558.2,108.8 558.7,109.5 559.2,108.3 559.7,107.2 560.2,106.0 560.7,105.8 561.2,106.0 561.7,106.3 562.2,105.6 562.7,105.0 563.2,104.3 563.7,104.6 564.2,105.0 564.7,105.4 565.2,105.8 565.7,105.9 566.2,104.5 566.7,103.1 567.2,103.6 567.7,105.0 568.2,106.4 568.7,104.7 569.2,103.0 569.7,101.3 570.2,99.7 570.7,100.9 571.2,102.1 571.7,103.3 572.2,101.6 572.7,99.9 573.2,98.2 573.7,98.3 574.2,99.2 574.7,100.4 575.2,101.5 575.7,100.8 576.2,99.7 576.7,99.6 577.2,100.1 577.7,100.7 578.2,99.8 578.7,98.7 579.2,97.5 579.7,96.9 580.2,96.9 580.7,97.1 581.2,97.4 581.7,97.8 582.2,98.0 582.7,98.1 583.2,97.6 583.7,96.6 584.2,95.7 584.7,95.4 585.2,95.4 585.7,95.3 586.2,95.3 586.7,95.1 587.2,94.8 587.7,94.5 588.2,94.2 588.7,93.9 589.2,94.3 589.7,94.7 590.2,95.2 590.7,95.6 591.2,94.9 591.7,93.8 592.2,92.7 592.7,92.5 593.2,93.0 593.7,93.6 594.2,94.1 594.7,94.5 595.2,92.7 595.3,92.4 595.8,96.7 596.3,97.4 596.8,99.3 597.3,100.5 597.8,99.2 598.3,97.9 598.8,98.7 599.3,100.0 599.8,101.3 600.3,101.7 600.8,100.6 601.3,99.4 601.8,99.6 602.3,101.1 602.8,102.5 603.3,103.1 603.8,103.2 604.3,103.4 604.8,103.7 605.3,103.9 605.8,104.2 606.3,104.0 606.8,103.7 607.3,103.5 607.8,103.2 608.3,103.4 608.8,103.5 609.3,103.6 609.8,104.2 610.3,104.9 610.8,105.5 611.3,105.9 611.8,106.2 612.3,105.8 612.8,105.1 613.3,104.4 613.8,103.8 614.3,104.1 614.8,105.1 615.3,106.0 615.8,105.8 616.3,104.8 616.8,103.8 617.3,103.8 617.8,104.8 618.3,105.7 618.8,106.6 619.3,107.1 619.8,106.9 620.3,106.8 620.8,106.7 621.3,106.6 621.8,107.0 622.3,107.4 622.8,107.8 623.3,108.3 623.8,107.8 624.3,107.3 624.8,106.8 625.3,107.0 625.8,107.4 626.3,107.7 626.8,107.8 627.3,107.7 627.8,107.7 628.3,107.6 628.8,107.2 629.3,106.8 629.8,106.3 630.3,106.0 630.8,105.8 631.3,105.5 631.8,105.2 632.3,105.4 632.8,106.2 633.3,107.0 633.8,107.7 634.3,108.1 634.8,106.1 635.3,104.1 635.8,105.1 636.3,106.5 636.8,107.8 637.3,107.1 637.8,106.4 638.3,105.7 638.8,106.2 639.3,106.9 639.8,107.6 640.3,108.3 640.8,107.5 641.3,106.6 641.8,105.7 642.3,105.3 642.8,106.5 643.3,107.7 643.8,108.9 644.3,108.9 644.8,108.5 645.3,108.2 645.8,108.6 646.3,109.1 646.8,109.0 647.3,108.4 647.8,108.1 648.3,108.1 648.8,108.1 649.3,108.0 649.8,108.0 650.3,107.8 650.8,107.7 651.3,108.0 651.8,108.4 652.3,108.8 652.8,108.5 653.3,107.7 653.8,107.0 654.3,106.2 654.8,105.8 655.3,106.0 655.8,106.2 656.3,106.3 656.8,105.7 657.3,105.2 657.8,104.6 658.3,105.3 658.8,106.8 659.3,107.5 659.8,107.4 660.3,107.3 660.8,107.3 661.3,107.6 661.8,107.8 662.3,108.0 662.8,107.1 663.3,106.1 663.8,105.4 664.3,106.3 664.8,107.0 665.3,107.8 665.8,107.8 666.1,107.2" fill="none" stroke="#ef5353" stroke-width="1.20" stroke-linejoin="round"/>
<polyline points="520.2,150.2 520.7,147.9 521.2,145.6 521.7,143.2 522.2,140.6 522.7,138.9 523.2,138.3 523.7,137.9 524.2,136.2 524.7,133.5 525.2,130.8 525.7,128.2 526.2,127.8 526.7,127.5 527.2,127.3 527.7,127.1 528.2,126.3 528.7,124.5 529.2,122.8 529.7,121.0 530.2,119.7 530.7,119.3 531.2,118.9 531.7,118.6 532.2,118.1 532.7,116.3 533.2,114.5 533.7,114.1 534.2,114.2 534.7,114.4 535.2,114.5 535.7,114.3 536.2,112.4 536.7,110.6 537.2,108.7 537.7,108.0 538.2,108.4 538.7,108.9 539.2,109.4 539.7,108.0 540.2,106.3 540.7,106.0 541.2,106.9 541.7,107.7 542.2,107.6 542.7,106.6 543.2,105.6 543.7,104.6 544.2,104.3 544.7,104.0 545.2,103.7 545.7,103.0 546.2,101.9 546.7,100.7 547.2,99.6 547.7,99.8 548.2,100.1 548.7,100.4 549.2,100.7 549.7,99.5 550.2,98.3 550.7,97.3 551.2,96.9 551.7,97.5 552.2,98.0 552.7,97.7 553.2,97.5 553.7,97.2 554.2,96.8 554.7,96.3 555.2,95.9 555.7,95.4 556.2,94.9 556.7,94.3 557.2,93.6 557.7,93.0 558.2,92.3 558.7,93.4 559.2,94.6 559.7,94.4 560.2,93.5 560.7,92.6 561.2,91.8 561.7,91.1 562.2,91.9 562.7,92.5 563.2,93.2 563.7,92.0 564.2,90.5 564.7,89.0 565.2,88.4 565.7,88.2 566.2,88.0 566.7,87.8 567.2,87.6 567.7,86.6 568.2,85.4 568.7,85.0 569.2,85.7 569.7,86.4 570.2,87.2 570.7,86.8 571.2,84.7 571.7,82.6 572.2,83.3 572.7,84.1 573.2,85.0 573.7,85.8 574.2,84.3 574.7,81.7 575.2,81.1 575.7,82.2 576.2,83.3 576.7,84.3 577.2,83.4 577.7,82.5 578.2,82.4 578.7,83.0 579.2,83.5 579.7,82.4 580.2,80.6 580.7,80.0 581.2,80.7 581.7,81.4 582.2,80.9 582.7,80.1 583.2,79.4 583.7,78.7 584.2,78.9 584.7,79.1 585.2,79.4 585.7,79.7 586.2,79.4 586.7,79.1 587.2,78.7 587.7,78.3 588.2,78.2 588.7,78.2 589.2,78.2 589.7,77.4 590.2,76.5 590.7,75.6 591.2,75.7 591.7,76.5 592.2,77.3 592.7,77.9 593.2,76.4 593.7,74.9 594.2,73.7 594.3,73.7 594.8,75.5 595.3,77.2 595.8,78.6 596.3,79.5 596.8,80.2 597.3,80.8 597.8,81.2 598.3,82.3 598.8,84.5 599.3,86.6 599.8,88.6 600.3,88.0 600.8,87.4 601.3,86.7 601.8,88.1 602.3,89.7 602.8,91.3 603.3,92.9 603.8,92.5 604.3,91.6 604.8,90.7 605.3,89.7 605.8,90.3 606.3,92.7 606.8,94.0 607.3,92.9 607.8,91.8 608.3,91.5 608.8,91.9 609.3,92.3 609.8,92.7 610.3,93.1 610.8,93.6 611.3,94.0 611.8,94.5 612.3,95.7 612.8,96.9 613.3,95.4 613.8,93.8 614.3,92.3 614.8,93.3 615.3,94.8 615.8,96.3 616.3,96.3 616.8,96.0 617.3,95.7 617.8,95.6 618.3,96.2 618.8,96.8 619.3,97.1 619.8,96.6 620.3,96.1 620.8,95.7 621.3,95.2 621.8,95.1 622.3,95.3 622.8,95.6 623.3,95.9 623.8,94.6 624.3,93.1 624.8,93.2 625.3,94.7 625.8,96.2 626.3,97.5 626.8,96.3 627.3,95.2 627.8,94.1 628.3,94.5 628.8,95.0 629.3,95.7 629.8,96.3 630.3,96.9 630.8,97.4 631.3,97.9 631.8,98.4 632.3,98.0 632.8,96.5 633.3,95.1 633.8,94.7 634.3,96.8 634.8,98.8 635.3,98.7 635.8,97.9 636.3,97.0 636.8,96.1 637.3,97.1 637.8,98.2 638.3,99.3 638.8,99.8 639.3,98.3 639.8,96.7 640.3,96.3 640.8,97.3 641.3,98.4 641.8,97.6 642.3,96.9 642.8,96.1 643.3,96.7 643.8,97.9 644.3,99.0 644.8,99.2 645.3,98.8 645.8,98.3 646.3,98.0 646.8,97.8 647.3,97.6 647.8,97.1 648.3,96.4 648.8,95.6 649.3,95.8 649.8,96.8 650.3,97.8 650.8,98.8 651.3,98.2 651.8,97.6 652.3,96.9 652.8,97.3 653.3,98.0 653.8,98.7 654.3,99.3 654.8,98.9 655.3,98.0 655.8,97.0 656.3,96.0 656.8,96.4 657.3,97.5 657.8,98.7 658.3,99.8 658.8,100.1 659.3,99.7 659.8,99.2 660.3,99.6 660.8,100.4 661.3,101.0 661.8,100.4 662.3,99.8 662.8,99.1 663.3,98.9 663.8,98.8 664.3,98.6 664.8,98.1 665.3,97.5 665.8,98.5 666.1,99.3" fill="none" stroke="#3a78e0" stroke-width="1.20" stroke-linejoin="round"/>
<polyline points="520.2,150.2 520.7,145.8 521.2,141.6 521.7,137.6 522.2,134.6 522.7,132.1 523.2,130.1 523.7,126.9 524.2,124.0 524.7,121.2 525.2,118.9 525.7,116.9 526.2,114.9 526.7,112.5 527.2,110.3 527.7,108.1 528.2,106.1 528.7,105.3 529.2,105.0 529.7,104.4 530.2,101.7 530.7,99.2 531.2,98.8 531.7,98.4 532.2,98.1 532.7,97.8 533.2,96.8 533.7,94.8 534.2,93.0 534.7,91.1 535.2,90.3 535.7,90.3 536.2,90.3 536.7,90.1 537.2,89.0 537.7,87.8 538.2,86.6 538.7,85.6 539.2,85.0 539.7,84.9 540.2,84.8 540.7,84.2 541.2,82.9 541.7,81.9 542.2,82.4 542.7,82.8 543.2,82.9 543.7,80.6 544.2,78.3 544.7,77.6 545.2,77.7 545.7,77.8 546.2,78.0 546.7,78.1 547.2,77.0 547.7,75.8 548.2,74.6 548.7,73.4 549.2,73.2 549.7,74.0 550.2,74.7 550.7,74.9 551.2,72.7 551.7,70.4 552.2,68.2 552.7,68.9 553.2,69.5 553.7,70.2 554.2,69.4 554.7,68.1 555.2,66.7 555.7,65.4 556.2,65.7 556.7,66.8 557.2,67.9 557.7,66.1 558.2,64.3 558.7,62.5 559.2,61.6 559.7,63.1 560.2,64.5 560.7,63.9 561.2,63.0 561.7,62.4 562.2,62.5 562.7,62.5 563.2,61.5 563.7,60.4 564.2,59.4 564.7,58.3 565.2,58.0 565.7,58.7 566.2,59.2 566.7,58.2 567.2,57.2 567.7,56.2 568.2,56.1 568.7,56.6 569.2,57.2 569.7,57.8 570.2,57.3 570.7,55.9 571.2,54.5 571.7,53.1 572.2,51.7 572.7,51.8 573.2,52.2 573.7,52.7 574.2,53.1 574.7,52.4 575.2,50.8 575.7,49.2 576.2,47.8 576.7,49.0 577.2,50.2 577.7,51.0 578.2,49.3 578.7,47.7 579.2,46.5 579.7,48.1 580.2,49.7 580.7,49.1 581.2,48.1 581.7,47.2 582.2,46.8 582.7,47.4 583.2,48.1 583.7,46.9 584.2,45.4 584.7,43.8 585.2,44.1 585.7,44.3 586.2,44.5 586.7,44.7 587.2,44.3 587.7,43.7 588.2,43.1 588.7,43.5 589.2,44.3 589.7,45.2 590.2,44.5 590.7,43.1 591.2,41.6 591.7,40.2 592.2,40.4 592.7,41.2 593.2,41.1 593.5,40.7 594.0,41.9 594.5,43.1 595.0,45.3 595.5,47.7 596.0,50.1 596.5,52.4 597.0,53.0 597.5,53.2 598.0,53.4 598.5,53.6 599.0,55.1 599.5,57.2 600.0,59.3 600.5,59.0 601.0,58.6 601.5,58.5 602.0,60.8 602.5,63.0 603.0,63.6 603.5,63.4 604.0,63.2 604.5,63.0 605.0,64.9 605.5,66.9 606.0,67.6 606.5,67.4 607.0,67.2 607.5,66.9 608.0,67.2 608.5,68.3 609.0,69.4 609.5,70.5 610.0,69.9 610.5,69.2 611.0,70.0 611.5,71.3 612.0,72.6 612.5,72.6 613.0,71.8 613.5,71.0 614.0,70.3 614.5,71.3 615.0,72.5 615.5,73.5 616.0,74.1 616.5,74.7 617.0,75.2 617.5,75.0 618.0,74.7 618.5,75.2 619.0,75.7 619.5,76.3 620.0,76.9 620.5,77.8 621.0,78.8 621.5,79.8 622.0,79.1 622.5,77.8 623.0,76.4 623.5,77.0 624.0,78.1 624.5,79.3 625.0,79.7 625.5,79.6 626.0,80.1 626.5,80.9 627.0,81.8 627.5,82.3 628.0,81.8 628.5,81.2 629.0,80.6 629.5,80.0 630.0,80.6 630.5,81.5 631.0,82.0 631.5,81.4 632.0,80.7 632.5,80.0 633.0,79.4 633.5,81.0 634.0,82.8 634.5,84.2 635.0,83.9 635.5,83.5 636.0,83.2 636.5,82.9 637.0,83.1 637.5,83.3 638.0,83.6 638.5,83.8 639.0,83.7 639.5,83.4 640.0,83.1 640.5,82.8 641.0,82.7 641.5,83.3 642.0,84.0 642.5,84.6 643.0,85.3 643.5,84.8 644.0,83.3 644.5,81.8 645.0,81.1 645.5,82.1 646.0,83.1 646.5,84.1 647.0,84.6 647.5,84.2 648.0,83.8 648.5,84.0 649.0,84.7 649.5,85.5 650.0,86.2 650.5,86.3 651.0,85.0 651.5,83.6 652.0,82.4 652.5,84.1 653.0,85.8 653.5,87.5 654.0,87.4 654.5,86.4 655.0,85.3 655.5,84.2 656.0,84.7 656.5,86.7 657.0,88.7 657.5,87.8 658.0,86.9 658.5,86.1 659.0,86.5 659.5,87.3 660.0,88.1 660.5,88.8 661.0,89.3 661.5,88.9 662.0,88.4 662.5,88.0 663.0,88.1 663.5,89.3 664.0,90.5 664.5,90.4 665.0,89.2 665.5,88.0 665.9,87.4" fill="none" stroke="#3cb078" stroke-width="1.20" stroke-linejoin="round"/></g>
<g id="pD"><text class="big" transform="translate(1.40 205.00) scale(1.080 1)" font-size="16.00" font-weight="bold">D</text>
<text x="71.20" y="201.40" font-size="11.80" font-weight="bold">Peptide<tspan font-size="7.15" dy="4.10">GRB14</tspan></text>
<text x="159.10" y="201.40" font-size="11.80" font-weight="bold">K<tspan font-size="7.15" dy="4.20">D</tspan><tspan dy="-4.20" font-size="11.80"> = 87 µM</tspan></text>
<path d="M37.50 221.30 V355.40 H204.80" fill="none" stroke="#444444" stroke-width="1.1"/>
<path d="M34.90 343.00 H37.50" stroke="#444444" stroke-width="0.9"/>
<text x="34.10" y="345.20" font-size="6.30" font-weight="bold" text-anchor="end" >0.00</text>
<path d="M34.90 318.66 H37.50" stroke="#444444" stroke-width="0.9"/>
<text x="34.10" y="320.86" font-size="6.30" font-weight="bold" text-anchor="end" >0.01</text>
<path d="M34.90 294.32 H37.50" stroke="#444444" stroke-width="0.9"/>
<text x="34.10" y="296.52" font-size="6.30" font-weight="bold" text-anchor="end" >0.02</text>
<path d="M34.90 269.98 H37.50" stroke="#444444" stroke-width="0.9"/>
<text x="34.10" y="272.18" font-size="6.30" font-weight="bold" text-anchor="end" >0.03</text>
<path d="M34.90 245.64 H37.50" stroke="#444444" stroke-width="0.9"/>
<text x="34.10" y="247.84" font-size="6.30" font-weight="bold" text-anchor="end" >0.04</text>
<path d="M34.90 221.30 H37.50" stroke="#444444" stroke-width="0.9"/>
<text x="34.10" y="223.50" font-size="6.30" font-weight="bold" text-anchor="end" >0.05</text>
<path d="M44.00 355.40 V357.20" stroke="#444444" stroke-width="0.9"/>
<text x="44.00" y="363.50" font-size="6.30" font-weight="bold" text-anchor="middle" >0</text>
<path d="M120.40 355.40 V357.20" stroke="#444444" stroke-width="0.9"/>
<text x="120.40" y="363.50" font-size="6.30" font-weight="bold" text-anchor="middle" >120</text>
<path d="M197.50 355.40 V357.20" stroke="#444444" stroke-width="0.9"/>
<text x="197.50" y="363.50" font-size="6.30" font-weight="bold" text-anchor="middle" >240</text>
<text x="123.60" y="374.60" font-size="7.10" font-weight="bold" text-anchor="middle" >Times (s)</text>
<text transform="translate(13.50 285.20) rotate(-90)" font-size="7.50" font-weight="bold" text-anchor="middle">BLI&#160;&#160;response (nm)</text>
<path d="M160.70 223.30 H176.60" stroke="#4a4a4a" stroke-width="1.2" stroke-opacity="0.7"/>
<text x="178.60" y="225.90" font-size="6.60" font-weight="bold" text-anchor="start" word-spacing="0.80">20 <tspan letter-spacing="0.45">µM</tspan></text>
<path d="M160.70 231.90 H176.60" stroke="#ef5353" stroke-width="1.2" stroke-opacity="0.7"/>
<text x="178.60" y="234.50" font-size="6.60" font-weight="bold" text-anchor="start" word-spacing="0.80">80 <tspan letter-spacing="0.45">µM</tspan></text>
<path d="M160.70 240.40 H176.60" stroke="#3a78e0" stroke-width="1.2" stroke-opacity="0.7"/>
<text x="178.60" y="243.00" font-size="6.60" font-weight="bold" text-anchor="start" word-spacing="0.80">200 <tspan letter-spacing="0.45">µM</tspan></text>
<path d="M160.70 249.20 H176.60" stroke="#3cb078" stroke-width="1.2" stroke-opacity="0.7"/>
<text x="178.60" y="251.80" font-size="6.60" font-weight="bold" text-anchor="start" word-spacing="0.80">500 <tspan letter-spacing="0.45">µM</tspan></text>
<polyline points="44.3,355.1 44.8,352.9 45.3,351.4 45.8,349.8 46.3,349.1 46.8,348.9 47.3,347.9 47.8,346.5 48.3,345.1 48.8,343.7 49.3,343.9 49.8,345.8 50.3,347.6 50.8,347.5 51.3,346.3 51.8,345.0 52.3,344.5 52.8,345.2 53.3,345.9 53.8,345.0 54.3,342.7 54.8,340.5 55.3,338.4 55.8,339.2 56.3,340.1 56.8,340.8 57.3,340.7 57.8,339.0 58.3,337.2 58.8,335.4 59.3,334.0 59.8,334.8 60.3,335.6 60.8,336.3 61.3,336.8 61.8,336.4 62.3,335.9 62.8,335.5 63.3,335.2 63.8,335.0 64.3,335.0 64.8,335.0 65.3,335.1 65.8,333.7 66.3,332.2 66.8,330.6 67.3,329.1 67.8,329.1 68.3,330.0 68.8,330.9 69.3,331.8 69.8,330.8 70.3,328.9 70.8,328.3 71.3,328.9 71.8,329.5 72.3,330.1 72.8,330.6 73.3,329.5 73.8,328.4 74.3,327.3 74.8,327.6 75.3,328.4 75.8,328.3 76.3,327.0 76.8,325.8 77.3,324.5 77.8,323.5 78.3,324.5 78.8,325.5 79.3,325.4 79.8,324.2 80.3,323.0 80.8,324.4 81.3,325.7 81.8,327.1 82.3,326.3 82.8,324.8 83.3,323.2 83.8,321.7 84.3,322.0 84.8,322.6 85.3,323.2 85.8,323.8 86.3,324.0 86.8,322.7 87.3,321.5 87.8,320.2 88.3,319.0 88.8,319.7 89.3,320.6 89.8,321.4 90.3,321.6 90.8,321.1 91.3,320.5 91.8,320.0 92.3,320.9 92.8,322.3 93.3,323.7 93.8,325.1 94.3,325.0 94.8,322.9 95.3,320.9 95.8,319.4 96.3,320.6 96.8,321.9 97.3,323.2 97.8,324.3 98.3,322.4 98.8,320.4 99.3,318.4 99.8,317.1 100.3,317.5 100.8,318.0 101.3,318.1 101.8,317.6 102.3,317.2 102.8,318.1 103.3,319.0 103.8,319.9 104.3,318.8 104.8,316.8 105.3,314.9 105.8,316.4 106.3,319.0 106.8,320.0 107.3,318.0 107.8,315.9 108.3,313.9 108.8,315.0 109.3,317.0 109.8,318.3 110.3,317.4 110.8,316.5 111.3,315.8 111.8,317.2 112.3,318.5 112.8,317.9 113.3,314.6 113.8,312.5 114.3,313.5 114.8,314.5 115.3,315.5 115.8,315.9 116.3,315.9 116.8,316.0 117.3,316.1 117.8,316.3 118.3,317.5 118.8,318.6 119.3,317.9 119.8,316.1 120.3,314.3 120.8,312.5 121.3,313.1 121.5,313.9 122.0,323.3 122.5,325.8 123.0,327.6 123.5,326.5 124.0,325.4 124.5,325.7 125.0,326.0 125.5,326.3 126.0,326.2 126.5,325.3 127.0,324.4 127.5,323.5 128.0,323.3 128.5,324.4 129.0,325.6 129.5,326.8 130.0,327.9 130.5,327.2 131.0,326.2 131.5,325.2 132.0,324.2 132.5,323.8 133.0,325.7 133.5,327.6 134.0,329.4 134.5,331.2 135.0,331.0 135.5,330.5 136.0,330.0 136.5,329.5 137.0,329.2 137.5,329.7 138.0,330.1 138.5,330.5 139.0,328.6 139.5,326.3 140.0,325.5 140.5,328.7 141.0,331.8 141.5,330.9 142.0,329.9 142.5,328.9 143.0,328.0 143.5,328.1 144.0,329.5 144.5,330.8 145.0,331.5 145.5,331.2 146.0,330.9 146.5,330.9 147.0,331.8 147.5,332.8 148.0,331.3 148.5,328.8 149.0,327.7 149.5,329.3 150.0,330.8 150.5,332.4 151.0,331.0 151.5,329.3 152.0,327.6 152.5,328.6 153.0,329.9 153.5,331.1 154.0,330.5 154.5,329.0 155.0,328.4 155.5,328.7 156.0,329.0 156.5,329.0 157.0,328.9 157.5,328.8 158.0,328.7 158.5,328.8 159.0,329.2 159.5,329.7 160.0,329.4 160.5,329.2 161.0,328.9 161.5,329.0 162.0,330.6 162.5,332.1 163.0,333.7 163.5,335.0 164.0,334.0 164.5,333.0 165.0,331.9 165.5,331.9 166.0,332.1 166.5,332.2 167.0,332.3 167.5,330.8 168.0,329.4 168.5,327.9 169.0,328.9 169.5,330.3 170.0,331.8 170.5,333.3 171.0,334.1 171.5,332.6 172.0,331.1 172.5,329.5 173.0,328.0 173.5,328.6 174.0,329.8 174.5,330.1 175.0,329.2 175.5,328.6 176.0,329.9 176.5,331.3 177.0,332.5 177.5,333.8 178.0,332.7 178.5,330.5 179.0,329.7 179.5,329.8 180.0,329.9 180.5,329.9 181.0,329.7 181.5,329.2 182.0,329.1 182.5,331.0 183.0,333.0 183.5,332.1 184.0,329.9 184.5,327.7 185.0,327.1 185.5,328.8 186.0,330.5 186.5,332.1 187.0,333.5 187.5,332.9 188.0,332.2 188.5,331.6 189.0,332.7 189.5,333.8 190.0,334.9 190.5,335.4 191.0,333.2 191.5,330.9 192.0,329.0 192.5,330.5 193.0,331.9 193.5,333.4 194.0,334.9 194.5,334.4 195.0,331.9 195.5,329.7 196.0,331.0 196.5,332.3" fill="none" stroke="#4a4a4a" stroke-width="1.30" stroke-linejoin="round"/>
<polyline points="43.5,337.0 44.0,336.4 44.5,335.7 45.0,335.4 45.5,336.6 46.0,338.3 46.5,337.1 47.0,335.3 47.5,333.5 48.0,332.0 48.5,332.0 49.0,331.6 49.5,331.2 50.0,330.4 50.5,328.8 51.0,326.9 51.5,325.0 52.0,323.3 52.5,321.1 53.0,319.1 53.5,318.4 54.0,318.8 54.5,319.3 55.0,319.9 55.5,318.9 56.0,316.9 56.5,315.0 57.0,313.0 57.5,311.1 58.0,311.3 58.5,311.5 59.0,311.7 59.5,310.8 60.0,309.8 60.5,308.9 61.0,309.2 61.5,309.5 62.0,309.7 62.5,307.3 63.0,305.0 63.5,304.4 64.0,305.0 64.5,305.7 65.0,305.0 65.5,303.7 66.0,302.5 66.5,302.2 67.0,303.9 67.5,305.1 68.0,303.1 68.5,301.1 69.0,299.1 69.5,297.7 70.0,298.9 70.5,300.2 71.0,300.8 71.5,299.7 72.0,298.6 72.5,297.5 73.0,296.8 73.5,298.0 74.0,299.2 74.5,300.3 75.0,298.2 75.5,296.2 76.0,294.2 76.5,293.0 77.0,293.2 77.5,293.4 78.0,293.6 78.5,293.4 79.0,292.3 79.5,291.2 80.0,290.6 80.5,292.8 81.0,295.1 81.5,296.9 82.0,293.8 82.5,290.6 83.0,289.0 83.5,289.6 84.0,290.3 84.5,290.7 85.0,289.7 85.5,288.6 86.0,287.9 86.5,288.5 87.0,289.1 87.5,289.7 88.0,289.5 88.5,288.4 89.0,287.5 89.5,287.7 90.0,287.9 90.5,288.1 91.0,288.3 91.5,289.0 92.0,289.6 92.5,290.4 93.0,291.2 93.5,290.5 94.0,287.9 94.5,285.3 95.0,284.7 95.5,285.8 96.0,286.9 96.5,288.1 97.0,287.7 97.5,286.9 98.0,285.9 98.5,284.9 99.0,283.9 99.5,285.3 100.0,286.7 100.5,287.6 101.0,286.5 101.5,285.4 102.0,284.2 102.5,283.6 103.0,283.3 103.5,283.1 104.0,283.1 104.5,283.0 105.0,282.3 105.5,281.7 106.0,281.0 106.5,280.3 107.0,280.1 107.5,279.9 108.0,280.0 108.5,280.5 109.0,280.9 109.5,281.5 110.0,282.0 110.5,282.5 111.0,283.1 111.5,283.1 112.0,282.0 112.5,280.9 113.0,280.5 113.5,281.3 114.0,282.2 114.5,282.9 115.0,281.7 115.5,280.5 116.0,280.1 116.5,281.1 117.0,282.2 117.5,282.1 118.0,281.2 118.5,280.8 119.0,280.6 119.5,280.8 120.0,282.0 120.5,283.5 121.0,285.2 121.5,287.1 122.0,288.0 122.2,288.3 122.7,289.3 123.2,292.2 123.7,295.3 124.2,298.0 124.7,298.0 125.2,297.8 125.7,297.6 126.2,298.1 126.7,299.4 127.2,300.6 127.7,301.9 128.2,303.3 128.7,302.8 129.2,302.3 129.7,301.7 130.2,302.0 130.7,303.5 131.2,305.1 131.7,306.6 132.2,306.9 132.7,305.5 133.2,304.1 133.7,304.9 134.2,307.0 134.7,309.1 135.2,308.1 135.7,306.4 136.2,305.9 136.7,307.5 137.2,309.0 137.7,310.5 138.2,311.1 138.7,310.7 139.2,310.3 139.7,309.9 140.2,309.5 140.7,310.0 141.2,310.5 141.7,311.1 142.2,311.7 142.7,310.3 143.2,309.0 143.7,307.6 144.2,306.3 144.7,306.2 145.2,306.8 145.7,307.4 146.2,308.0 146.7,308.6 147.2,308.9 147.7,309.2 148.2,309.6 148.7,310.0 149.2,310.1 149.7,310.3 150.2,310.4 150.7,310.6 151.2,310.0 151.7,309.1 152.2,309.8 152.7,312.2 153.2,314.6 153.7,313.5 154.2,311.2 154.7,308.9 155.2,310.6 155.7,312.2 156.2,313.9 156.7,313.3 157.2,312.4 157.7,311.5 158.2,311.5 158.7,312.3 159.2,313.2 159.7,313.5 160.2,313.4 160.7,313.3 161.2,313.4 161.7,313.7 162.2,314.0 162.7,314.2 163.2,314.7 163.7,315.3 164.2,315.8 164.7,316.5 165.2,317.1 165.7,317.8 166.2,318.1 166.7,316.8 167.2,315.5 167.7,314.4 168.2,316.4 168.7,318.4 169.2,318.9 169.7,317.8 170.2,316.7 170.7,316.3 171.2,316.8 171.7,317.3 172.2,317.8 172.7,317.5 173.2,316.3 173.7,315.1 174.2,313.9 174.7,313.7 175.2,315.0 175.7,316.2 176.2,317.6 176.7,317.2 177.2,315.5 177.7,314.6 178.2,315.9 178.7,317.3 179.2,317.7 179.7,317.6 180.2,317.5 180.7,317.7 181.2,318.6 181.7,319.5 182.2,320.2 182.7,321.0 183.2,317.7 183.7,314.0 184.2,315.4 184.7,318.5 185.2,320.6 185.7,318.8 186.2,317.0 186.7,315.2 187.2,313.4 187.7,314.9 188.2,316.7 188.7,318.6 189.2,320.4 189.7,320.2 190.2,319.2 190.7,318.3 191.2,317.9 191.7,318.4 192.2,318.9 192.7,319.4 193.2,320.0 193.7,318.8 194.2,317.2 194.7,315.6 195.2,316.2 195.7,318.3 196.2,320.4 196.5,321.7" fill="none" stroke="#ef5353" stroke-width="1.30" stroke-linejoin="round"/>
<polyline points="43.8,336.0 44.3,336.0 44.8,335.4 45.3,334.2 45.8,334.1 46.3,334.4 46.8,334.9 47.3,335.5 47.8,334.6 48.3,331.7 48.8,328.4 49.3,325.6 49.8,323.5 50.3,322.8 50.8,322.4 51.3,322.2 51.8,320.7 52.3,318.3 52.8,316.1 53.3,314.2 53.8,312.3 54.3,311.4 54.8,311.1 55.3,310.7 55.8,310.1 56.3,309.6 56.8,309.2 57.3,308.6 57.8,306.5 58.3,304.4 58.8,302.3 59.3,301.6 59.8,302.8 60.3,304.1 60.8,305.4 61.3,304.3 61.8,300.2 62.3,297.7 62.8,298.6 63.3,299.5 63.8,300.5 64.3,301.4 64.8,300.3 65.3,298.2 65.8,296.1 66.3,294.1 66.8,293.2 67.3,294.3 67.8,295.4 68.3,294.7 68.8,293.5 69.3,292.6 69.8,292.5 70.3,292.4 70.8,291.9 71.3,291.1 71.8,290.4 72.3,290.8 72.8,291.4 73.3,292.0 73.8,292.3 74.3,291.8 74.8,291.4 75.3,291.1 75.8,292.4 76.3,293.7 76.8,294.2 77.3,293.0 77.8,291.7 78.3,290.4 78.8,290.2 79.3,290.9 79.8,291.1 80.3,289.3 80.8,287.4 81.3,286.2 81.8,286.3 82.3,286.4 82.8,286.1 83.3,284.9 83.8,283.8 84.3,282.7 84.8,283.3 85.3,284.0 85.8,284.7 86.3,285.5 86.8,283.9 87.3,281.8 87.8,280.7 88.3,282.1 88.8,283.4 89.3,284.8 89.8,284.2 90.3,283.2 90.8,282.2 91.3,281.4 91.8,281.8 92.3,282.0 92.8,281.2 93.3,280.5 93.8,279.7 94.3,279.9 94.8,282.3 95.3,284.8 95.8,282.5 96.3,279.2 96.8,278.4 97.3,279.4 97.8,280.3 98.3,281.4 98.8,282.5 99.3,281.9 99.8,281.2 100.3,280.5 100.8,279.8 101.3,279.3 101.8,279.5 102.3,279.7 102.8,279.9 103.3,280.0 103.8,278.4 104.3,277.0 104.8,276.1 105.3,277.4 105.8,278.7 106.3,278.5 106.8,278.3 107.3,278.1 107.8,277.9 108.3,278.2 108.8,278.5 109.3,278.8 109.8,277.0 110.3,274.3 110.8,273.3 111.3,275.1 111.8,276.9 112.3,278.7 112.8,275.5 113.3,272.2 113.8,272.8 114.3,273.9 114.8,274.9 115.3,276.0 115.8,275.9 116.3,273.6 116.8,271.3 117.3,270.9 117.8,271.6 118.3,272.2 118.8,272.8 119.3,271.0 119.8,268.1 120.3,264.8 120.8,263.8 121.3,263.3 121.5,263.1 122.0,264.7 122.5,264.2 123.0,263.1 123.5,262.1 124.0,261.9 124.5,263.5 125.0,265.3 125.5,265.7 126.0,265.8 126.5,266.2 127.0,267.1 127.5,268.6 128.0,271.3 128.5,273.7 129.0,275.5 129.5,277.0 130.0,277.2 130.5,277.2 131.0,277.1 131.5,277.0 132.0,277.7 132.5,280.0 133.0,282.4 133.5,284.6 134.0,286.8 134.5,286.6 135.0,286.1 135.5,285.5 136.0,285.1 136.5,285.4 137.0,285.8 137.5,286.1 138.0,286.4 138.5,285.8 139.0,284.6 139.5,284.6 140.0,286.6 140.5,288.8 141.0,288.3 141.5,287.1 142.0,287.6 142.5,289.0 143.0,290.4 143.5,289.2 144.0,286.8 144.5,284.4 145.0,285.3 145.5,288.4 146.0,291.3 146.5,290.7 147.0,289.4 147.5,288.1 148.0,286.8 148.5,286.8 149.0,288.1 149.5,289.4 150.0,288.9 150.5,286.8 151.0,284.6 151.5,285.1 152.0,286.7 152.5,288.4 153.0,289.5 153.5,288.2 154.0,286.9 154.5,287.4 155.0,288.5 155.5,289.5 156.0,290.6 156.5,289.4 157.0,286.5 157.5,285.0 158.0,286.7 158.5,288.4 159.0,290.1 159.5,291.8 160.0,292.3 160.5,291.9 161.0,291.5 161.5,291.2 162.0,291.1 162.5,291.4 163.0,291.8 163.5,290.3 164.0,288.4 164.5,288.5 165.0,288.9 165.5,289.4 166.0,289.9 166.5,290.4 167.0,290.9 167.5,291.4 168.0,291.9 168.5,292.5 169.0,293.1 169.5,293.8 170.0,294.4 170.5,293.9 171.0,292.5 171.5,291.0 172.0,289.6 172.5,289.4 173.0,290.8 173.5,291.7 174.0,291.1 174.5,290.5 175.0,290.5 175.5,293.3 176.0,296.1 176.5,295.7 177.0,294.6 177.5,293.5 178.0,292.4 178.5,292.0 179.0,292.5 179.5,292.9 180.0,293.4 180.5,292.9 181.0,292.0 181.5,291.0 182.0,293.3 182.5,296.7 183.0,296.8 183.5,294.4 184.0,292.0 184.5,291.9 185.0,292.9 185.5,293.9 186.0,294.0 186.5,293.8 187.0,293.6 187.5,293.4 188.0,293.7 188.5,294.2 189.0,294.6 189.5,295.1 190.0,294.5 190.5,293.9 191.0,293.3 191.5,292.6 192.0,293.3 192.5,295.2 193.0,297.2 193.5,298.4 194.0,295.8 194.5,293.2 195.0,294.1 195.5,295.8 196.0,297.6 196.5,299.3" fill="none" stroke="#3a78e0" stroke-width="1.30" stroke-linejoin="round"/>
<polyline points="43.5,348.1 44.0,345.7 44.5,342.6 45.0,340.0 45.5,338.5 46.0,337.7 46.5,337.7 47.0,334.5 47.5,331.5 48.0,329.9 48.5,329.5 49.0,329.1 49.5,325.7 50.0,321.2 50.5,316.5 51.0,315.0 51.5,313.7 52.0,312.4 52.5,311.2 53.0,308.8 53.5,305.3 54.0,301.7 54.5,298.3 55.0,296.9 55.5,296.5 56.0,296.7 56.5,296.7 57.0,295.6 57.5,294.5 58.0,294.0 58.5,293.5 59.0,293.0 59.5,292.5 60.0,291.3 60.5,290.1 61.0,289.0 61.5,289.0 62.0,288.8 62.5,288.6 63.0,288.4 63.5,285.5 64.0,281.3 64.5,277.2 65.0,279.5 65.5,282.1 66.0,281.6 66.5,280.2 67.0,278.7 67.5,277.3 68.0,277.4 68.5,279.6 69.0,281.8 69.5,280.0 70.0,276.7 70.5,273.4 71.0,273.8 71.5,276.9 72.0,280.0 72.5,278.1 73.0,273.8 73.5,272.1 74.0,273.4 74.5,274.8 75.0,276.1 75.5,277.1 76.0,275.4 76.5,273.7 77.0,272.0 77.5,270.3 78.0,270.5 78.5,271.4 79.0,272.3 79.5,273.2 80.0,273.6 80.5,271.4 81.0,269.2 81.5,266.9 82.0,267.5 82.5,268.0 83.0,268.6 83.5,269.2 84.0,268.4 84.5,265.2 85.0,262.0 85.5,259.2 86.0,261.1 86.5,263.0 87.0,265.0 87.5,265.5 88.0,261.4 88.5,257.3 89.0,257.6 89.5,258.0 90.0,258.5 90.5,258.9 91.0,258.9 91.5,258.3 92.0,257.6 92.5,257.8 93.0,258.5 93.5,259.2 94.0,257.4 94.5,255.3 95.0,255.0 95.5,255.1 96.0,255.2 96.5,255.2 97.0,255.3 97.5,255.4 98.0,255.5 98.5,255.9 99.0,256.2 99.5,256.5 100.0,256.5 100.5,255.1 101.0,253.6 101.5,252.2 102.0,250.8 102.5,250.3 103.0,250.7 103.5,251.1 104.0,251.4 104.5,251.7 105.0,250.3 105.5,248.9 106.0,247.6 106.5,246.2 107.0,245.4 107.5,245.1 108.0,244.8 108.5,244.5 109.0,245.0 109.5,245.4 110.0,246.1 110.5,246.8 111.0,247.2 111.5,245.7 112.0,244.2 112.5,242.7 113.0,241.2 113.5,240.5 114.0,240.7 114.5,240.9 115.0,240.8 115.5,240.3 116.0,239.7 116.5,239.0 117.0,238.4 117.5,238.9 118.0,239.5 118.5,240.0 119.0,240.3 119.5,237.9 120.0,235.5 120.5,233.0 121.0,232.3 121.3,233.7 121.8,239.2 122.3,244.1 122.8,245.5 123.3,246.5 123.8,246.9 124.3,247.2 124.8,249.4 125.3,252.2 125.8,254.5 126.3,252.8 126.8,250.9 127.3,249.1 127.8,249.4 128.3,249.7 128.8,250.1 129.3,250.4 129.8,250.7 130.3,250.4 130.8,250.2 131.3,250.1 131.8,250.3 132.3,252.8 132.8,255.2 133.3,257.7 133.8,257.5 134.3,257.1 134.8,256.7 135.3,256.3 135.8,255.9 136.3,255.5 136.8,255.2 137.3,255.4 137.8,255.5 138.3,255.7 138.8,256.1 139.3,258.3 139.8,260.6 140.3,262.6 140.8,261.6 141.3,260.6 141.8,259.6 142.3,258.8 142.8,259.2 143.3,259.7 143.8,260.1 144.3,260.3 144.8,259.8 145.3,259.2 145.8,258.6 146.3,259.1 146.8,260.7 147.3,262.2 147.8,263.8 148.3,262.3 148.8,260.8 149.3,260.2 149.8,260.9 150.3,261.6 150.8,262.1 151.3,262.5 151.8,263.0 152.3,263.6 152.8,264.4 153.3,265.2 153.8,266.0 154.3,265.4 154.8,264.5 155.3,263.5 155.8,262.5 156.3,264.1 156.8,265.8 157.3,267.0 157.8,264.3 158.3,261.6 158.8,261.5 159.3,262.6 159.8,263.7 160.3,264.0 160.8,263.7 161.3,263.4 161.8,263.9 162.3,264.9 162.8,265.8 163.3,265.7 163.8,265.4 164.3,264.8 164.8,265.2 165.3,267.6 165.8,270.0 166.3,270.2 166.8,269.2 167.3,268.1 167.8,267.1 168.3,267.0 168.8,267.7 169.3,268.5 169.8,269.4 170.3,268.7 170.8,266.4 171.3,264.0 171.8,261.7 172.3,262.8 172.8,266.1 173.3,268.1 173.8,267.0 174.3,266.0 174.8,264.9 175.3,263.9 175.8,264.9 176.3,266.9 176.8,268.8 177.3,270.0 177.8,268.8 178.3,267.7 178.8,266.5 179.3,265.4 179.8,266.3 180.3,267.7 180.8,268.8 181.3,268.1 181.8,267.3 182.3,266.4 182.8,266.4 183.3,267.3 183.8,268.1 184.3,269.0 184.8,269.8 185.3,268.5 185.8,267.0 186.3,265.4 186.8,263.8 187.3,262.5 187.8,263.2 188.3,264.1 188.8,263.7 189.3,263.2 189.8,262.8 190.3,264.3 190.8,266.7 191.3,269.2 191.8,267.4 192.3,264.9 192.8,264.8 193.3,266.1 193.8,267.4 194.3,268.4 194.8,266.4 195.3,264.4 195.8,265.3 196.3,266.3 196.4,266.5" fill="none" stroke="#3cb078" stroke-width="1.30" stroke-linejoin="round"/></g>
<g id="pE"><text class="big" transform="translate(242.40 205.10) scale(1.080 1)" font-size="16.00" font-weight="bold">E</text>
<text x="298.30" y="201.40" font-size="11.80" font-weight="bold">Peptide<tspan font-size="7.15" dy="4.10">RAB4B</tspan></text>
<text x="387.00" y="201.40" font-size="11.80" font-weight="bold">K<tspan font-size="7.15" dy="4.20">D</tspan><tspan dy="-4.20" font-size="11.80"> = 84 µM</tspan></text>
<path d="M273.40 226.90 V355.40 H433.40" fill="none" stroke="#444444" stroke-width="1.1"/>
<path d="M270.80 355.40 H273.40" stroke="#444444" stroke-width="0.9"/>
<text x="270.00" y="357.60" font-size="6.30" font-weight="bold" text-anchor="end" >0.00</text>
<path d="M270.80 323.27 H273.40" stroke="#444444" stroke-width="0.9"/>
<text x="270.00" y="325.47" font-size="6.30" font-weight="bold" text-anchor="end" >0.05</text>
<path d="M270.80 291.15 H273.40" stroke="#444444" stroke-width="0.9"/>
<text x="270.00" y="293.35" font-size="6.30" font-weight="bold" text-anchor="end" >0.10</text>
<path d="M270.80 259.02 H273.40" stroke="#444444" stroke-width="0.9"/>
<text x="270.00" y="261.22" font-size="6.30" font-weight="bold" text-anchor="end" >0.15</text>
<path d="M270.80 226.90 H273.40" stroke="#444444" stroke-width="0.9"/>
<text x="270.00" y="229.10" font-size="6.30" font-weight="bold" text-anchor="end" >0.20</text>
<path d="M279.40 355.40 V357.20" stroke="#444444" stroke-width="0.9"/>
<text x="279.40" y="363.50" font-size="6.30" font-weight="bold" text-anchor="middle" >0</text>
<path d="M353.50 355.40 V357.20" stroke="#444444" stroke-width="0.9"/>
<text x="353.50" y="363.50" font-size="6.30" font-weight="bold" text-anchor="middle" >120</text>
<path d="M427.20 355.40 V357.20" stroke="#444444" stroke-width="0.9"/>
<text x="427.20" y="363.50" font-size="6.30" font-weight="bold" text-anchor="middle" >240</text>
<text x="355.20" y="374.60" font-size="7.10" font-weight="bold" text-anchor="middle" >Times (s)</text>
<text transform="translate(250.20 293.40) rotate(-90)" font-size="7.50" font-weight="bold" text-anchor="middle">BLI&#160;&#160;response (nm)</text>
<path d="M388.60 223.90 H403.80" stroke="#4a4a4a" stroke-width="1.2" stroke-opacity="0.7"/>
<text x="405.60" y="226.50" font-size="6.60" font-weight="bold" text-anchor="start" word-spacing="0.80">20 <tspan letter-spacing="0.45">µM</tspan></text>
<path d="M388.60 232.50 H403.80" stroke="#ef5353" stroke-width="1.2" stroke-opacity="0.7"/>
<text x="405.60" y="235.10" font-size="6.60" font-weight="bold" text-anchor="start" word-spacing="0.80">80 <tspan letter-spacing="0.45">µM</tspan></text>
<path d="M388.60 241.00 H403.80" stroke="#3a78e0" stroke-width="1.2" stroke-opacity="0.7"/>
<text x="405.60" y="243.60" font-size="6.60" font-weight="bold" text-anchor="start" word-spacing="0.80">200 <tspan letter-spacing="0.45">µM</tspan></text>
<path d="M388.60 249.50 H403.80" stroke="#3cb078" stroke-width="1.2" stroke-opacity="0.7"/>
<text x="405.60" y="252.10" font-size="6.60" font-weight="bold" text-anchor="start" word-spacing="0.80">500 <tspan letter-spacing="0.45">µM</tspan></text>
<polyline points="279.6,355.2 280.1,354.1 280.6,353.0 281.1,352.0 281.6,351.2 282.1,350.8 282.6,350.7 283.1,349.8 283.6,348.8 284.1,348.0 284.6,347.8 285.1,347.6 285.6,347.4 286.1,346.6 286.6,345.8 287.1,345.0 287.6,344.8 288.1,344.6 288.6,344.5 289.1,344.3 289.6,344.0 290.1,343.2 290.6,342.4 291.1,341.7 291.6,341.6 292.1,341.5 292.6,341.4 293.1,341.3 293.6,340.7 294.1,340.1 294.6,339.6 295.1,339.0 295.6,339.0 296.1,339.2 296.6,339.3 297.1,338.6 297.6,338.0 298.1,337.3 298.6,337.6 299.1,337.8 299.6,338.0 300.1,337.3 300.6,336.6 301.1,336.2 301.6,336.1 302.1,336.1 302.6,336.0 303.1,335.9 303.6,335.7 304.1,335.4 304.6,335.1 305.1,334.8 305.6,334.6 306.1,334.5 306.6,334.3 307.1,334.2 307.6,333.7 308.1,333.0 308.6,332.4 309.1,332.6 309.6,332.9 310.1,333.1 310.6,333.3 311.1,333.3 311.6,332.9 312.1,332.5 312.6,332.0 313.1,331.8 313.6,331.7 314.1,331.6 314.6,331.4 315.1,331.1 315.6,330.7 316.1,330.4 316.6,330.3 317.1,330.3 317.6,330.3 318.1,330.1 318.6,329.7 319.1,329.2 319.6,328.8 320.1,328.5 320.6,328.6 321.1,328.8 321.6,329.0 322.1,328.9 322.6,328.5 323.1,328.1 323.6,327.8 324.1,327.8 324.6,328.0 325.1,328.0 325.6,327.6 326.1,327.2 326.6,327.3 327.1,327.9 327.6,328.0 328.1,327.1 328.6,326.3 329.1,326.1 329.6,326.2 330.1,326.2 330.6,326.3 331.1,326.3 331.6,326.2 332.1,326.0 332.6,325.9 333.1,325.7 333.6,325.8 334.1,326.1 334.6,326.3 335.1,326.5 335.6,326.4 336.1,326.2 336.6,325.9 337.1,325.7 337.6,325.6 338.1,325.7 338.6,325.8 339.1,325.8 339.6,325.5 340.1,325.2 340.6,324.8 341.1,324.5 341.6,324.3 342.1,324.2 342.6,324.1 343.1,323.9 343.6,323.7 344.1,323.5 344.6,323.3 345.1,323.2 345.6,323.2 346.1,323.3 346.6,323.3 347.1,323.3 347.6,323.3 348.1,323.3 348.6,323.3 349.1,323.1 349.6,322.8 350.1,322.7 350.6,322.7 351.1,322.7 351.6,322.7 352.1,322.7 352.6,322.7 353.1,322.7 353.2,322.7 353.7,322.9 354.2,323.0 354.7,323.1 355.2,323.2 355.7,323.3 356.2,323.5 356.7,323.9 357.2,324.3 357.7,324.7 358.2,324.5 358.7,324.3 359.2,324.0 359.7,323.8 360.2,323.8 360.7,324.0 361.2,324.2 361.7,324.5 362.2,324.5 362.7,324.3 363.2,324.0 363.7,323.8 364.2,323.7 364.7,324.1 365.2,324.5 365.7,324.5 366.2,324.4 366.7,324.4 367.2,324.3 367.7,324.4 368.2,324.7 368.7,324.9 369.2,325.0 369.7,324.3 370.2,323.7 370.7,323.6 371.2,324.0 371.7,324.5 372.2,325.0 372.7,324.8 373.2,324.3 373.7,323.8 374.2,323.6 374.7,324.0 375.2,324.4 375.7,324.3 376.2,324.0 376.7,323.7 377.2,323.4 377.7,323.4 378.2,323.9 378.7,324.3 379.2,323.9 379.7,323.4 380.2,323.0 380.7,323.3 381.2,323.5 381.7,323.8 382.2,323.8 382.7,323.5 383.2,323.2 383.7,322.9 384.2,323.0 384.7,323.1 385.2,322.9 385.7,322.6 386.2,322.6 386.7,323.0 387.2,323.4 387.7,323.2 388.2,322.9 388.7,322.7 389.2,322.8 389.7,323.1 390.2,323.3 390.7,323.5 391.2,323.3 391.7,323.0 392.2,322.7 392.7,322.5 393.2,322.5 393.7,322.9 394.2,323.2 394.7,323.6 395.2,323.3 395.7,322.9 396.2,322.5 396.7,322.2 397.2,322.2 397.7,322.2 398.2,322.1 398.7,322.1 399.2,321.9 399.7,321.8 400.2,321.7 400.7,321.6 401.2,321.7 401.7,322.1 402.2,322.6 402.7,322.7 403.2,322.6 403.7,322.5 404.2,322.4 404.7,322.5 405.2,322.6 405.7,322.7 406.2,322.9 406.7,322.9 407.2,322.4 407.7,321.8 408.2,321.5 408.7,321.6 409.2,321.8 409.7,322.0 410.2,322.0 410.7,321.7 411.2,321.5 411.7,321.2 412.2,321.0 412.7,321.1 413.2,321.2 413.7,321.3 414.2,321.4 414.7,321.4 415.2,321.2 415.7,321.0 416.2,320.9 416.7,320.8 417.2,321.2 417.7,321.5 418.2,321.9 418.7,321.4 419.2,321.0 419.7,321.0 420.2,321.1 420.7,320.8 421.2,320.6 421.7,320.5 422.2,320.6 422.7,320.6 423.2,320.6 423.7,320.4 424.2,320.1 424.7,319.9 425.2,320.5 425.7,321.2 426.1,321.2" fill="none" stroke="#4a4a4a" stroke-width="1.15" stroke-linejoin="round"/>
<polyline points="279.6,355.2 280.1,353.7 280.6,352.2 281.1,350.8 281.6,349.5 282.1,348.7 282.6,348.2 283.1,346.7 283.6,345.3 284.1,343.9 284.6,343.4 285.1,342.9 285.6,342.4 286.1,341.9 286.6,341.0 287.1,340.1 287.6,339.3 288.1,338.9 288.6,338.5 289.1,338.0 289.6,337.6 290.1,336.8 290.6,335.8 291.1,335.1 291.6,335.2 292.1,335.4 292.6,335.3 293.1,334.6 293.6,333.9 294.1,333.2 294.6,332.8 295.1,332.6 295.6,332.4 296.1,332.1 296.6,331.2 297.1,330.3 297.6,330.0 298.1,330.0 298.6,330.0 299.1,329.5 299.6,329.0 300.1,328.5 300.6,328.0 301.1,327.5 301.6,327.0 302.1,326.5 302.6,326.0 303.1,325.6 303.6,325.4 304.1,325.8 304.6,325.9 305.1,325.1 305.6,324.3 306.1,323.7 306.6,323.9 307.1,324.0 307.6,323.8 308.1,323.1 308.6,322.4 309.1,321.8 309.6,321.9 310.1,322.1 310.6,321.4 311.1,320.8 311.6,320.1 312.1,319.5 312.6,319.5 313.1,319.5 313.6,319.6 314.1,319.7 314.6,319.3 315.1,318.8 315.6,318.3 316.1,317.9 316.6,317.7 317.1,317.6 317.6,317.4 318.1,317.1 318.6,316.5 319.1,315.9 319.6,315.3 320.1,315.0 320.6,315.0 321.1,315.0 321.6,315.0 322.1,314.7 322.6,314.4 323.1,314.1 323.6,313.8 324.1,313.5 324.6,313.2 325.1,313.0 325.6,312.7 326.1,312.4 326.6,312.2 327.1,311.9 327.6,311.7 328.1,311.7 328.6,311.7 329.1,311.4 329.6,310.8 330.1,310.1 330.6,309.5 331.1,309.4 331.6,309.6 332.1,309.8 332.6,309.4 333.1,308.7 333.6,308.0 334.1,307.4 334.6,306.9 335.1,306.9 335.6,306.9 336.1,306.9 336.6,306.9 337.1,306.7 337.6,306.6 338.1,306.5 338.6,306.3 339.1,306.2 339.6,306.0 340.1,305.9 340.6,305.4 341.1,304.7 341.6,304.5 342.1,304.5 342.6,304.5 343.1,304.3 343.6,303.7 344.1,303.0 344.6,303.0 345.1,303.2 345.6,303.3 346.1,303.5 346.6,303.1 347.1,302.3 347.6,301.5 348.1,301.6 348.6,301.6 349.1,301.6 349.6,301.7 350.1,301.4 350.6,301.1 351.1,300.9 351.6,300.6 352.1,300.7 352.6,300.7 353.1,300.7 353.6,300.0 354.1,299.3 354.6,298.9 355.1,299.0 355.3,299.0 355.8,299.6 356.3,300.2 356.8,300.8 357.3,301.1 357.8,301.5 358.3,301.8 358.8,302.1 359.3,302.4 359.8,302.6 360.3,302.5 360.8,302.1 361.3,301.7 361.8,301.6 362.3,302.0 362.8,302.4 363.3,302.0 363.8,301.5 364.3,301.5 364.8,302.1 365.3,302.7 365.8,302.6 366.3,302.3 366.8,302.0 367.3,301.6 367.8,301.6 368.3,302.0 368.8,302.5 369.3,302.9 369.8,302.9 370.3,302.4 370.8,302.1 371.3,302.5 371.8,303.0 372.3,303.2 372.8,302.9 373.3,302.6 373.8,302.3 374.3,302.6 374.8,303.3 375.3,303.3 375.8,302.6 376.3,302.0 376.8,302.1 377.3,302.3 377.8,302.5 378.3,302.7 378.8,302.6 379.3,302.6 379.8,302.6 380.3,303.0 380.8,303.4 381.3,303.6 381.8,303.0 382.3,302.3 382.8,302.5 383.3,302.7 383.8,302.6 384.3,302.4 384.8,302.2 385.3,302.7 385.8,303.2 386.3,303.0 386.8,302.8 387.3,302.8 387.8,303.1 388.3,303.3 388.8,303.5 389.3,303.1 389.8,302.8 390.3,302.4 390.8,302.1 391.3,302.3 391.8,302.6 392.3,303.0 392.8,303.3 393.3,303.0 393.8,302.7 394.3,302.5 394.8,302.2 395.3,302.2 395.8,302.5 396.3,302.7 396.8,302.9 397.3,302.8 397.8,302.4 398.3,302.1 398.8,302.0 399.3,302.4 399.8,302.7 400.3,302.8 400.8,302.3 401.3,301.8 401.8,302.1 402.3,302.4 402.8,302.7 403.3,302.8 403.8,302.5 404.3,302.2 404.8,301.9 405.3,302.0 405.8,302.3 406.3,302.6 406.8,302.7 407.3,302.6 407.8,302.4 408.3,302.3 408.8,302.2 409.3,302.1 409.8,302.1 410.3,302.0 410.8,301.9 411.3,301.8 411.8,301.7 412.3,301.7 412.8,301.6 413.3,301.5 413.8,301.4 414.3,301.1 414.8,300.9 415.3,301.0 415.8,301.3 416.3,301.5 416.8,301.7 417.3,301.8 417.8,301.5 418.3,301.2 418.8,301.1 419.3,301.0 419.8,300.8 420.3,300.4 420.8,300.2 421.3,300.5 421.8,300.7 422.3,300.9 422.8,300.9 423.3,300.5 423.8,300.0 424.3,299.6 424.8,300.1 425.3,300.9 425.8,301.1 426.1,300.8" fill="none" stroke="#ef5353" stroke-width="1.15" stroke-linejoin="round"/>
<polyline points="279.6,355.2 280.1,352.7 280.6,350.3 281.1,348.0 281.6,345.8 282.1,343.8 282.6,342.0 283.1,340.1 283.6,338.3 284.1,336.5 284.6,335.6 285.1,334.8 285.6,334.1 286.1,333.2 286.6,331.6 287.1,330.2 287.6,329.3 288.1,328.6 288.6,327.9 289.1,327.0 289.6,325.5 290.1,324.0 290.6,323.5 291.1,323.0 291.6,322.5 292.1,322.0 292.6,321.4 293.1,320.4 293.6,319.5 294.1,318.5 294.6,317.6 295.1,317.1 295.6,316.7 296.1,316.4 296.6,315.9 297.1,315.0 297.6,314.1 298.1,313.3 298.6,312.7 299.1,312.4 299.6,312.1 300.1,311.8 300.6,311.4 301.1,310.8 301.6,310.1 302.1,309.4 302.6,308.9 303.1,308.8 303.6,308.6 304.1,308.5 304.6,307.7 305.1,307.0 305.6,306.4 306.1,305.7 306.6,305.5 307.1,305.5 307.6,305.4 308.1,304.9 308.6,304.2 309.1,303.5 309.6,302.9 310.1,302.3 310.6,302.2 311.1,302.1 311.6,302.0 312.1,301.7 312.6,300.9 313.1,300.2 313.6,299.5 314.1,299.0 314.6,298.5 315.1,298.0 315.6,297.5 316.1,297.1 316.6,296.6 317.1,296.1 317.6,296.1 318.1,296.3 318.6,296.0 319.1,295.3 319.6,294.6 320.1,294.1 320.6,293.7 321.1,293.3 321.6,293.0 322.1,292.5 322.6,292.1 323.1,291.7 323.6,291.3 324.1,291.0 324.6,290.6 325.1,290.2 325.6,289.7 326.1,289.1 326.6,288.4 327.1,288.3 327.6,288.3 328.1,288.2 328.6,288.1 329.1,287.6 329.6,286.8 330.1,286.1 330.6,285.4 331.1,285.0 331.6,285.0 332.1,285.0 332.6,284.6 333.1,283.8 333.6,282.9 334.1,282.0 334.6,281.8 335.1,281.7 335.6,281.6 336.1,281.5 336.6,281.0 337.1,280.5 337.6,279.9 338.1,279.5 338.6,279.2 339.1,279.0 339.6,278.7 340.1,278.2 340.6,277.3 341.1,276.5 341.6,276.5 342.1,276.4 342.6,276.4 343.1,275.9 343.6,275.3 344.1,274.8 344.6,274.3 345.1,274.0 345.6,273.7 346.1,273.1 346.6,272.4 347.1,271.8 347.6,271.1 348.1,270.9 348.6,271.1 349.1,271.0 349.6,270.4 350.1,269.9 350.6,269.4 351.1,269.6 351.6,269.7 352.1,268.9 352.6,268.1 353.1,267.3 353.2,267.1 353.7,268.0 354.2,269.1 354.7,270.1 355.2,271.0 355.7,271.7 356.2,272.1 356.7,272.5 357.2,272.9 357.7,273.5 358.2,274.0 358.7,274.5 359.2,274.9 359.7,275.6 360.2,276.2 360.7,276.6 361.2,276.9 361.7,277.2 362.2,277.2 362.7,277.2 363.2,277.2 363.7,277.1 364.2,277.8 364.7,278.4 365.2,279.1 365.7,279.7 366.2,279.8 366.7,279.9 367.2,280.0 367.7,280.1 368.2,280.4 368.7,280.8 369.2,281.1 369.7,281.0 370.2,280.6 370.7,280.1 371.2,279.9 371.7,280.4 372.2,280.8 372.7,281.3 373.2,281.7 373.7,281.5 374.2,281.1 374.7,280.8 375.2,281.0 375.7,281.5 376.2,282.0 376.7,282.4 377.2,282.1 377.7,281.8 378.2,281.6 378.7,281.5 379.2,282.1 379.7,282.6 380.2,283.0 380.7,282.6 381.2,282.2 381.7,281.8 382.2,281.7 382.7,282.1 383.2,282.5 383.7,282.9 384.2,282.7 384.7,282.2 385.2,281.8 385.7,281.6 386.2,282.0 386.7,282.4 387.2,282.7 387.7,283.1 388.2,282.8 388.7,282.5 389.2,282.1 389.7,281.7 390.2,281.8 390.7,282.0 391.2,282.1 391.7,282.3 392.2,282.4 392.7,282.4 393.2,282.4 393.7,282.4 394.2,282.5 394.7,282.6 395.2,282.7 395.7,282.8 396.2,282.7 396.7,282.6 397.2,282.5 397.7,282.5 398.2,283.1 398.7,283.7 399.2,283.7 399.7,283.4 400.2,283.1 400.7,283.4 401.2,283.8 401.7,284.1 402.2,284.4 402.7,284.1 403.2,283.9 403.7,283.7 404.2,283.4 404.7,283.6 405.2,283.7 405.7,283.8 406.2,283.5 406.7,283.2 407.2,282.9 407.7,282.6 408.2,282.9 408.7,283.5 409.2,283.9 409.7,283.9 410.2,283.9 410.7,284.0 411.2,284.1 411.7,284.3 412.2,284.2 412.7,284.1 413.2,284.1 413.7,284.1 414.2,284.3 414.7,284.4 415.2,284.5 415.7,284.6 416.2,283.9 416.7,283.3 417.2,283.0 417.7,283.5 418.2,284.1 418.7,284.5 419.2,284.1 419.7,283.7 420.2,283.3 420.7,283.5 421.2,283.8 421.7,284.1 422.2,284.5 422.7,284.5 423.2,284.2 423.7,283.9 424.2,283.6 424.7,283.2 425.2,283.5 425.7,284.0 426.1,284.4" fill="none" stroke="#3a78e0" stroke-width="1.15" stroke-linejoin="round"/>
<polyline points="279.6,355.2 280.1,352.9 280.6,350.7 281.1,348.6 281.6,346.5 282.1,344.7 282.6,343.0 283.1,341.6 283.6,340.1 284.1,338.1 284.6,336.1 285.1,334.2 285.6,333.0 286.1,332.1 286.6,331.1 287.1,329.7 287.6,328.1 288.1,326.6 288.6,325.2 289.1,324.1 289.6,323.0 290.1,322.0 290.6,320.8 291.1,319.7 291.6,318.5 292.1,317.4 292.6,316.6 293.1,316.0 293.6,315.5 294.1,314.6 294.6,313.4 295.1,312.2 295.6,311.3 296.1,311.0 296.6,310.6 297.1,309.9 297.6,308.4 298.1,306.8 298.6,306.3 299.1,306.0 299.6,305.5 300.1,304.3 300.6,303.0 301.1,302.6 301.6,302.3 302.1,301.9 302.6,301.0 303.1,300.1 303.6,299.1 304.1,298.8 304.6,298.5 305.1,298.3 305.6,297.9 306.1,296.8 306.6,295.8 307.1,294.8 307.6,293.8 308.1,293.7 308.6,293.7 309.1,293.5 309.6,292.5 310.1,291.4 310.6,290.5 311.1,290.2 311.6,290.0 312.1,289.7 312.6,289.2 313.1,288.3 313.6,287.4 314.1,286.4 314.6,286.0 315.1,285.8 315.6,285.5 316.1,285.2 316.6,284.5 317.1,283.9 317.6,283.2 318.1,282.6 318.6,282.1 319.1,281.6 319.6,281.1 320.1,280.2 320.6,279.4 321.1,279.1 321.6,279.1 322.1,278.9 322.6,277.9 323.1,276.8 323.6,275.8 324.1,275.2 324.6,274.8 325.1,274.4 325.6,274.0 326.1,273.5 326.6,272.9 327.1,272.2 327.6,271.6 328.1,271.1 328.6,271.1 329.1,271.2 329.6,271.0 330.1,270.4 330.6,269.7 331.1,269.1 331.6,268.6 332.1,268.2 332.6,267.8 333.1,267.1 333.6,266.4 334.1,265.5 334.6,264.8 335.1,264.4 335.6,263.9 336.1,263.5 336.6,263.0 337.1,262.6 337.6,262.2 338.1,261.8 338.6,261.3 339.1,260.9 339.6,260.6 340.1,260.2 340.6,259.9 341.1,259.2 341.6,258.2 342.1,257.2 342.6,256.9 343.1,256.8 343.6,256.5 344.1,255.9 344.6,255.4 345.1,254.8 345.6,254.2 346.1,253.8 346.6,253.5 347.1,253.2 347.6,252.9 348.1,252.4 348.6,251.5 349.1,250.7 349.6,250.4 350.1,250.1 350.6,249.9 351.1,249.7 351.6,249.0 352.1,248.1 352.6,247.3 353.1,247.1 353.2,247.0 353.7,248.1 354.2,249.0 354.7,250.0 355.2,250.3 355.7,250.4 356.2,250.6 356.7,251.6 357.2,252.4 357.7,252.8 358.2,252.8 358.7,253.1 359.2,253.9 359.7,254.7 360.2,255.5 360.7,255.7 361.2,255.8 361.7,255.9 362.2,256.0 362.7,256.7 363.2,257.3 363.7,258.0 364.2,258.0 364.7,258.0 365.2,258.1 365.7,258.6 366.2,259.0 366.7,259.4 367.2,259.9 367.7,259.7 368.2,259.5 368.7,259.4 369.2,259.2 369.7,259.8 370.2,260.8 370.7,261.2 371.2,261.1 371.7,260.9 372.2,260.8 372.7,260.8 373.2,261.2 373.7,261.7 374.2,262.1 374.7,262.4 375.2,262.1 375.7,261.8 376.2,262.2 376.7,262.6 377.2,263.0 377.7,262.8 378.2,262.7 378.7,262.5 379.2,262.7 379.7,263.4 380.2,264.2 380.7,264.0 381.2,263.8 381.7,263.6 382.2,263.4 382.7,263.6 383.2,264.6 383.7,265.2 384.2,264.9 384.7,264.5 385.2,264.1 385.7,264.0 386.2,264.8 386.7,265.6 387.2,265.4 387.7,265.0 388.2,264.6 388.7,265.1 389.2,265.8 389.7,265.9 390.2,265.5 390.7,265.2 391.2,264.8 391.7,265.1 392.2,265.5 392.7,265.9 393.2,266.3 393.7,266.2 394.2,266.1 394.7,266.0 395.2,266.0 395.7,266.3 396.2,266.7 396.7,267.1 397.2,267.5 397.7,267.5 398.2,267.3 398.7,267.1 399.2,266.8 399.7,266.6 400.2,266.8 400.7,266.9 401.2,267.0 401.7,267.2 402.2,267.2 402.7,267.2 403.2,267.2 403.7,267.1 404.2,267.4 404.7,267.8 405.2,268.1 405.7,268.4 406.2,268.2 406.7,268.0 407.2,267.8 407.7,267.7 408.2,267.8 408.7,267.8 409.2,267.9 409.7,267.9 410.2,267.8 410.7,267.8 411.2,267.7 411.7,267.6 412.2,267.7 412.7,267.9 413.2,268.1 413.7,268.2 414.2,268.3 414.7,268.2 415.2,268.2 415.7,268.3 416.2,268.4 416.7,268.5 417.2,268.4 417.7,268.3 418.2,268.2 418.7,268.2 419.2,268.4 419.7,268.7 420.2,268.9 420.7,269.0 421.2,269.0 421.7,269.0 422.2,269.1 422.7,269.3 423.2,269.5 423.7,269.7 424.2,269.5 424.7,269.1 425.2,268.8 425.7,268.5 426.1,268.3" fill="none" stroke="#3cb078" stroke-width="1.15" stroke-linejoin="round"/></g>
</svg>
</body></html>
